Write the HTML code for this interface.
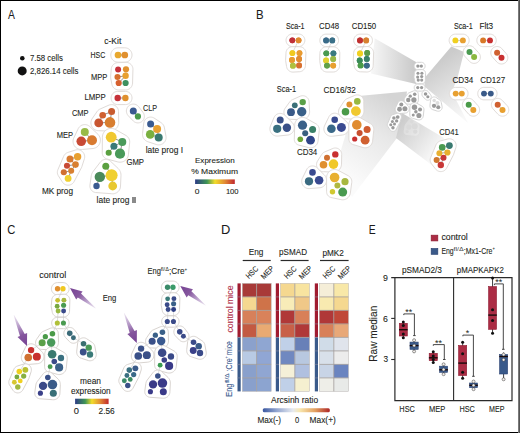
<!DOCTYPE html><html><head><meta charset="utf-8"><style>html,body{margin:0;padding:0;background:#fff;}svg{display:block;}text{font-family:"Liberation Sans",sans-serif;}</style></head><body>
<svg width="520" height="433" viewBox="0 0 520 433">
<defs>
<linearGradient id="gA" x1="0" x2="1" y1="0" y2="0">
 <stop offset="0" stop-color="#2c3b84"/><stop offset="0.3" stop-color="#3f9556"/><stop offset="0.5" stop-color="#f2dc2a"/><stop offset="0.75" stop-color="#e18a34"/><stop offset="1" stop-color="#c0282e"/>
</linearGradient>
<linearGradient id="gD" x1="0" x2="1" y1="0" y2="0">
 <stop offset="0" stop-color="#3a57a0"/><stop offset="0.2" stop-color="#8fa3cf"/><stop offset="0.45" stop-color="#e6eaf0"/><stop offset="0.55" stop-color="#f8e8b0"/><stop offset="0.78" stop-color="#e3a060"/><stop offset="1" stop-color="#ad2626"/>
</linearGradient>
<linearGradient id="arr" x1="1" y1="0" x2="0" y2="0">
 <stop offset="0" stop-color="#8a5ea6" stop-opacity="0.12"/><stop offset="0.35" stop-color="#8a5ea6" stop-opacity="0.6"/><stop offset="0.64" stop-color="#7f4e99" stop-opacity="0.95"/><stop offset="1" stop-color="#764293"/>
</linearGradient>
</defs>
<text x="8.00" y="18.60" font-size="12.3" fill="#1a1a1a" stroke="#1a1a1a" stroke-width="0.05" textLength="6.90" lengthAdjust="spacingAndGlyphs" >A</text>
<text x="256.00" y="18.50" font-size="12.3" fill="#1a1a1a" stroke="#1a1a1a" stroke-width="0.05" textLength="7.60" lengthAdjust="spacingAndGlyphs" >B</text>
<text x="7.20" y="233.90" font-size="12.3" fill="#1a1a1a" stroke="#1a1a1a" stroke-width="0.05" textLength="8.10" lengthAdjust="spacingAndGlyphs" >C</text>
<text x="220.90" y="234.00" font-size="12.3" fill="#1a1a1a" stroke="#1a1a1a" stroke-width="0.05" textLength="9.30" lengthAdjust="spacingAndGlyphs" >D</text>
<text x="368.70" y="234.20" font-size="12.3" fill="#1a1a1a" stroke="#1a1a1a" stroke-width="0.05" textLength="6.90" lengthAdjust="spacingAndGlyphs" >E</text>
<circle cx="22.3" cy="58.2" r="2.3" fill="#111"/>
<circle cx="22.2" cy="70.9" r="4.5" fill="#111"/>
<text x="30.00" y="60.60" font-size="8.7" fill="#231f20" stroke="#231f20" stroke-width="0.1" textLength="33.00" lengthAdjust="spacingAndGlyphs" >7.58 cells</text>
<text x="30.00" y="73.80" font-size="8.7" fill="#231f20" stroke="#231f20" stroke-width="0.1" textLength="48.50" lengthAdjust="spacingAndGlyphs" >2,826.14 cells</text>
<text x="104.30" y="43.70" font-size="8.3" fill="#231f20" stroke="#231f20" stroke-width="0.1" textLength="17.00" lengthAdjust="spacingAndGlyphs" >c-Kit</text>
<text x="90.50" y="58.10" font-size="8.3" fill="#231f20" stroke="#231f20" stroke-width="0.1" textLength="14.80" lengthAdjust="spacingAndGlyphs" >HSC</text>
<text x="90.90" y="80.40" font-size="8.3" fill="#231f20" stroke="#231f20" stroke-width="0.1" textLength="16.40" lengthAdjust="spacingAndGlyphs" >MPP</text>
<text x="84.50" y="99.50" font-size="8.3" fill="#231f20" stroke="#231f20" stroke-width="0.1" textLength="21.20" lengthAdjust="spacingAndGlyphs" >LMPP</text>
<text x="71.90" y="115.70" font-size="8.3" fill="#231f20" stroke="#231f20" stroke-width="0.1" textLength="16.60" lengthAdjust="spacingAndGlyphs" >CMP</text>
<text x="143.10" y="110.60" font-size="8.3" fill="#231f20" stroke="#231f20" stroke-width="0.1" textLength="14.00" lengthAdjust="spacingAndGlyphs" >CLP</text>
<text x="56.80" y="137.50" font-size="8.3" fill="#231f20" stroke="#231f20" stroke-width="0.1" textLength="16.30" lengthAdjust="spacingAndGlyphs" >MEP</text>
<text x="145.70" y="152.80" font-size="8.3" fill="#231f20" stroke="#231f20" stroke-width="0.1" textLength="37.30" lengthAdjust="spacingAndGlyphs" >late prog I</text>
<text x="126.40" y="164.90" font-size="8.3" fill="#231f20" stroke="#231f20" stroke-width="0.1" textLength="17.60" lengthAdjust="spacingAndGlyphs" >GMP</text>
<text x="41.90" y="194.20" font-size="8.3" fill="#231f20" stroke="#231f20" stroke-width="0.1" textLength="31.10" lengthAdjust="spacingAndGlyphs" >MK prog</text>
<text x="96.60" y="202.90" font-size="8.3" fill="#231f20" stroke="#231f20" stroke-width="0.1" textLength="32.80" lengthAdjust="spacingAndGlyphs" >late prog</text>
<rect x="132" y="197" width="4" height="6" fill="#8a8a8a"/>
<text x="195.00" y="162.90" font-size="8.0" fill="#231f20" stroke="#231f20" stroke-width="0.1" textLength="39.80" lengthAdjust="spacingAndGlyphs" >Expression</text>
<text x="191.20" y="174.00" font-size="8.0" fill="#231f20" stroke="#231f20" stroke-width="0.1" textLength="46.80" lengthAdjust="spacingAndGlyphs" >% Maximum</text>
<rect x="195.1" y="179.4" width="39.7" height="4.6" fill="url(#gA)"/>
<text x="194.70" y="194.40" font-size="8.0" fill="#231f20" stroke="#231f20" stroke-width="0.1" textLength="4.70" lengthAdjust="spacingAndGlyphs" >0</text>
<text x="225.90" y="194.40" font-size="8.0" fill="#231f20" stroke="#231f20" stroke-width="0.1" textLength="12.70" lengthAdjust="spacingAndGlyphs" >100</text>
<g>
<path d="M110.80,55.00 L110.86,54.06 L111.05,53.14 L111.35,52.24 L111.77,51.40 L112.29,50.62 L112.91,49.91 L113.62,49.29 L114.40,48.77 L115.25,48.35 L116.14,48.05 L117.06,47.86 L118.00,47.80 L124.80,47.80 L125.74,47.86 L126.66,48.05 L127.56,48.35 L128.40,48.77 L129.18,49.29 L129.89,49.91 L130.51,50.62 L131.03,51.40 L131.45,52.24 L131.75,53.14 L131.94,54.06 L132.00,55.00 L131.94,55.94 L131.75,56.86 L131.45,57.76 L131.03,58.60 L130.51,59.38 L129.89,60.09 L129.18,60.71 L128.40,61.23 L127.56,61.65 L126.66,61.95 L125.74,62.14 L124.80,62.20 L118.00,62.20 L117.06,62.14 L116.14,61.95 L115.25,61.65 L114.40,61.23 L113.62,60.71 L112.91,60.09 L112.29,59.38 L111.77,58.60 L111.35,57.76 L111.05,56.86 L110.86,55.94Z" fill="#fff" stroke="#e0dbd8" stroke-width="1.0" vector-effect="non-scaling-stroke"/>
<path d="M110.60,77.00 L110.66,76.10 L111.31,68.61 L111.48,67.73 L111.77,66.88 L112.17,66.08 L112.67,65.33 L113.26,64.66 L113.93,64.07 L114.67,63.57 L115.48,63.17 L116.33,62.88 L117.21,62.71 L118.10,62.65 L126.00,62.35 L126.91,62.41 L127.80,62.59 L128.66,62.88 L129.47,63.28 L130.23,63.79 L130.91,64.39 L131.51,65.07 L132.02,65.83 L132.42,66.64 L132.71,67.50 L132.89,68.39 L132.95,69.30 L132.55,83.00 L132.49,83.91 L132.31,84.80 L132.02,85.66 L131.62,86.47 L131.11,87.23 L130.51,87.91 L129.83,88.51 L129.07,89.02 L128.26,89.42 L127.40,89.71 L126.51,89.89 L125.60,89.95 L118.70,89.95 L117.79,89.89 L116.90,89.71 L116.04,89.42 L115.22,89.02 L114.47,88.51 L113.79,87.91 L113.19,87.23 L112.68,86.47 L112.28,85.66 L111.99,84.80 L111.81,83.91 L110.66,77.90Z" fill="#fff" stroke="#e0dbd8" stroke-width="1.0" vector-effect="non-scaling-stroke"/>
<path d="M111.10,98.00 L111.16,97.14 L111.33,96.29 L111.60,95.47 L111.98,94.70 L112.46,93.98 L113.03,93.33 L113.68,92.76 L114.40,92.28 L115.17,91.90 L115.99,91.62 L116.84,91.46 L117.70,91.40 L125.40,91.40 L126.26,91.46 L127.11,91.62 L127.93,91.90 L128.70,92.28 L129.42,92.76 L130.07,93.33 L130.64,93.98 L131.12,94.70 L131.50,95.47 L131.78,96.29 L131.94,97.14 L132.00,98.00 L131.94,98.86 L131.78,99.71 L131.50,100.53 L131.12,101.30 L130.64,102.02 L130.07,102.67 L129.42,103.24 L128.70,103.72 L127.93,104.10 L127.11,104.38 L126.26,104.54 L125.40,104.60 L117.70,104.60 L116.84,104.54 L115.99,104.38 L115.17,104.10 L114.40,103.72 L113.68,103.24 L113.03,102.67 L112.46,102.02 L111.98,101.30 L111.60,100.53 L111.33,99.71 L111.16,98.86Z" fill="#fff" stroke="#e0dbd8" stroke-width="1.0" vector-effect="non-scaling-stroke"/>
<path d="M126.40,111.00 L126.46,110.10 L126.64,109.21 L126.92,108.36 L127.32,107.55 L127.83,106.80 L128.42,106.12 L129.10,105.53 L129.85,105.02 L130.66,104.62 L131.51,104.33 L132.40,104.16 L133.30,104.10 L134.20,104.16 L135.09,104.33 L135.94,104.62 L136.75,105.02 L137.50,105.53 L138.18,106.12 L138.77,106.80 L143.06,112.44 L143.53,113.15 L143.91,113.91 L144.18,114.72 L144.34,115.55 L144.40,116.40 L144.34,117.25 L144.18,118.08 L143.91,118.89 L143.53,119.65 L143.06,120.36 L142.50,121.00 L141.86,121.56 L141.15,122.03 L140.39,122.41 L139.58,122.68 L138.75,122.84 L137.90,122.90 L137.05,122.84 L136.22,122.68 L135.41,122.41 L134.65,122.03 L133.94,121.56 L133.30,121.00 L128.42,115.88 L127.83,115.20 L127.32,114.45 L126.92,113.64 L126.64,112.79 L126.46,111.90Z" fill="#fff" stroke="#e0dbd8" stroke-width="1.0" vector-effect="non-scaling-stroke"/>
<path d="M142.50,134.40 L142.57,133.40 L143.76,123.10 L143.94,122.21 L144.22,121.36 L144.62,120.55 L145.13,119.80 L145.72,119.12 L146.40,118.53 L147.15,118.02 L147.96,117.62 L148.81,117.33 L149.70,117.16 L150.60,117.10 L151.50,117.16 L152.39,117.33 L153.24,117.62 L154.05,118.02 L160.80,122.49 L161.60,123.03 L162.33,123.67 L162.97,124.39 L163.51,125.20 L163.94,126.07 L164.25,126.98 L164.44,127.93 L166.04,136.53 L166.10,137.50 L166.04,138.47 L165.85,139.41 L165.54,140.33 L165.11,141.20 L164.57,142.00 L163.93,142.73 L163.21,143.37 L162.40,143.91 L161.53,144.34 L160.62,144.65 L159.67,144.84 L158.70,144.90 L157.73,144.84 L156.78,144.65 L148.21,141.84 L147.25,141.51 L146.35,141.07 L145.51,140.51 L144.75,139.84 L144.09,139.09 L143.53,138.25 L143.09,137.35 L142.76,136.39 L142.57,135.41Z" fill="#fff" stroke="#e0dbd8" stroke-width="1.0" vector-effect="non-scaling-stroke"/>
<path d="M90.90,122.90 L90.97,121.88 L91.17,120.88 L91.49,119.92 L91.94,119.00 L92.51,118.15 L97.39,111.12 L97.96,110.46 L98.62,109.89 L99.35,109.40 L100.14,109.01 L108.96,105.12 L109.81,104.83 L110.70,104.66 L111.60,104.60 L112.50,104.66 L113.39,104.83 L114.24,105.12 L115.05,105.52 L115.80,106.03 L116.48,106.62 L117.07,107.30 L117.58,108.05 L117.97,108.86 L118.27,109.71 L118.44,110.60 L118.50,111.50 L118.70,122.40 L118.63,123.54 L118.40,124.65 L118.04,125.73 L117.53,126.75 L116.90,127.70 L116.15,128.55 L115.30,129.30 L114.35,129.93 L113.33,130.44 L112.25,130.80 L111.14,131.03 L110.00,131.10 L98.70,130.70 L97.68,130.63 L96.68,130.43 L95.72,130.11 L94.80,129.66 L93.95,129.09 L93.19,128.41 L92.51,127.65 L91.94,126.80 L91.49,125.89 L91.17,124.92 L90.97,123.92Z" fill="#fff" stroke="#e0dbd8" stroke-width="1.0" vector-effect="non-scaling-stroke"/>
<path d="M73.05,141.30 L73.12,140.23 L73.33,139.18 L73.67,138.16 L77.96,129.17 L78.39,128.30 L78.93,127.50 L79.57,126.77 L80.30,126.13 L81.10,125.59 L81.97,125.16 L82.89,124.85 L83.83,124.66 L84.80,124.60 L85.77,124.66 L86.72,124.85 L87.63,125.16 L88.50,125.59 L89.31,126.13 L90.03,126.77 L97.94,134.26 L98.66,135.09 L99.28,136.00 L99.76,136.99 L100.11,138.03 L100.33,139.10 L100.40,140.20 L100.33,141.30 L100.11,142.37 L99.76,143.41 L99.28,144.40 L98.66,145.31 L97.94,146.14 L97.11,146.86 L96.20,147.47 L95.22,147.96 L94.17,148.31 L93.10,148.53 L82.32,149.43 L81.25,149.50 L80.18,149.43 L79.13,149.22 L78.11,148.88 L77.15,148.40 L76.26,147.81 L75.45,147.10 L74.75,146.29 L74.15,145.40 L73.67,144.44 L73.33,143.42 L73.12,142.37Z" fill="#fff" stroke="#e0dbd8" stroke-width="1.0" vector-effect="non-scaling-stroke"/>
<path d="M102.25,152.80 L102.40,137.20 L102.47,136.05 L102.70,134.92 L103.07,133.83 L103.58,132.80 L104.22,131.84 L104.98,130.98 L105.84,130.22 L106.80,129.58 L107.83,129.07 L108.92,128.70 L110.05,128.47 L111.20,128.40 L112.35,128.47 L113.48,128.70 L114.57,129.07 L115.60,129.58 L126.00,135.49 L126.81,136.03 L127.53,136.67 L128.17,137.40 L128.71,138.20 L129.14,139.07 L129.45,139.99 L129.64,140.93 L129.70,141.90 L129.64,142.87 L128.43,154.81 L128.21,155.90 L127.85,156.95 L127.36,157.95 L126.74,158.87 L126.01,159.71 L125.17,160.44 L124.25,161.06 L123.25,161.55 L122.20,161.91 L121.11,162.13 L120.00,162.20 L118.89,162.13 L117.80,161.91 L107.03,159.03 L106.23,158.76 L105.47,158.39 L104.77,157.92 L104.14,157.36 L103.58,156.73 L103.11,156.03 L102.74,155.27 L102.47,154.47 L102.31,153.64Z" fill="#fff" stroke="#e0dbd8" stroke-width="1.0" vector-effect="non-scaling-stroke"/>
<path d="M57.35,172.30 L57.41,171.46 L57.57,170.63 L57.84,169.83 L63.62,156.36 L64.02,155.55 L64.53,154.80 L65.12,154.12 L65.80,153.53 L66.55,153.02 L67.36,152.62 L68.21,152.34 L75.76,149.94 L76.67,149.76 L77.60,149.70 L78.53,149.76 L79.44,149.94 L80.32,150.24 L81.15,150.65 L81.92,151.17 L82.62,151.78 L83.23,152.48 L83.75,153.25 L84.16,154.08 L84.46,154.96 L84.64,155.87 L84.70,156.80 L84.64,157.73 L84.46,158.64 L81.97,166.33 L81.69,167.16 L81.30,167.95 L73.99,181.80 L73.50,182.54 L72.91,183.21 L72.24,183.79 L71.50,184.29 L70.70,184.68 L69.86,184.97 L68.99,185.14 L68.10,185.20 L67.21,185.14 L66.34,184.97 L65.50,184.68 L64.70,184.29 L63.96,183.79 L63.29,183.21 L62.70,182.54 L62.21,181.80 L58.21,175.53 L57.84,174.77 L57.57,173.97 L57.41,173.14Z" fill="#fff" stroke="#e0dbd8" stroke-width="1.0" vector-effect="non-scaling-stroke"/>
<path d="M89.90,186.00 L89.96,185.14 L91.27,175.78 L91.49,174.67 L91.86,173.61 L92.35,172.60 L92.98,171.66 L100.33,162.10 L100.92,161.42 L101.60,160.83 L102.35,160.32 L103.16,159.93 L104.01,159.63 L104.90,159.46 L105.80,159.40 L106.70,159.46 L107.59,159.63 L108.44,159.93 L109.25,160.32 L110.00,160.83 L110.68,161.42 L118.25,168.55 L119.06,169.48 L119.74,170.50 L120.28,171.60 L120.68,172.77 L120.92,173.97 L121.00,175.20 L120.50,186.00 L120.43,187.02 L120.23,188.02 L119.91,188.99 L119.45,189.90 L118.89,190.75 L118.22,191.51 L117.45,192.19 L116.60,192.75 L115.69,193.21 L114.72,193.53 L113.72,193.73 L112.70,193.80 L111.68,193.73 L95.64,192.54 L94.79,192.38 L93.97,192.10 L93.20,191.72 L92.48,191.24 L91.83,190.67 L91.26,190.02 L90.78,189.30 L90.40,188.53 L90.12,187.71 L89.96,186.86Z" fill="#fff" stroke="#e0dbd8" stroke-width="1.0" vector-effect="non-scaling-stroke"/>
<line x1="118" y1="55" x2="124.8" y2="55" stroke="#4a4a4a" stroke-width="0.6" vector-effect="non-scaling-stroke"/>
<line x1="117.5" y1="77" x2="125.6" y2="75.8" stroke="#4a4a4a" stroke-width="0.6" vector-effect="non-scaling-stroke"/>
<line x1="118.7" y1="83" x2="125.6" y2="75.8" stroke="#4a4a4a" stroke-width="0.6" vector-effect="non-scaling-stroke"/>
<line x1="117.7" y1="98" x2="125.4" y2="98" stroke="#4a4a4a" stroke-width="0.6" vector-effect="non-scaling-stroke"/>
<line x1="133.3" y1="111" x2="137.9" y2="116.4" stroke="#4a4a4a" stroke-width="0.6" vector-effect="non-scaling-stroke"/>
<line x1="150.6" y1="124" x2="157.1" y2="128.9" stroke="#4a4a4a" stroke-width="0.6" vector-effect="non-scaling-stroke"/>
<line x1="157.1" y1="128.9" x2="158.7" y2="137.5" stroke="#4a4a4a" stroke-width="0.6" vector-effect="non-scaling-stroke"/>
<line x1="150.2" y1="134.4" x2="158.7" y2="137.5" stroke="#4a4a4a" stroke-width="0.6" vector-effect="non-scaling-stroke"/>
<line x1="102.7" y1="115.2" x2="111.6" y2="111.5" stroke="#4a4a4a" stroke-width="0.6" vector-effect="non-scaling-stroke"/>
<line x1="102.7" y1="115.2" x2="98.7" y2="122.9" stroke="#4a4a4a" stroke-width="0.6" vector-effect="non-scaling-stroke"/>
<line x1="98.7" y1="122.9" x2="110" y2="122.4" stroke="#4a4a4a" stroke-width="0.6" vector-effect="non-scaling-stroke"/>
<line x1="111.6" y1="111.5" x2="110" y2="122.4" stroke="#4a4a4a" stroke-width="0.6" vector-effect="non-scaling-stroke"/>
<line x1="84.8" y1="132" x2="92" y2="140.2" stroke="#4a4a4a" stroke-width="0.6" vector-effect="non-scaling-stroke"/>
<line x1="81.25" y1="141.3" x2="92" y2="140.2" stroke="#4a4a4a" stroke-width="0.6" vector-effect="non-scaling-stroke"/>
<line x1="111.2" y1="137.2" x2="122.3" y2="141.9" stroke="#4a4a4a" stroke-width="0.6" vector-effect="non-scaling-stroke"/>
<line x1="113.9" y1="146.3" x2="122.3" y2="141.9" stroke="#4a4a4a" stroke-width="0.6" vector-effect="non-scaling-stroke"/>
<line x1="113.9" y1="146.3" x2="108.7" y2="152.8" stroke="#4a4a4a" stroke-width="0.6" vector-effect="non-scaling-stroke"/>
<line x1="120" y1="153.7" x2="122.3" y2="141.9" stroke="#4a4a4a" stroke-width="0.6" vector-effect="non-scaling-stroke"/>
<line x1="77.6" y1="156.8" x2="70" y2="159" stroke="#4a4a4a" stroke-width="0.6" vector-effect="non-scaling-stroke"/>
<line x1="70" y1="159" x2="75.5" y2="164.6" stroke="#4a4a4a" stroke-width="0.6" vector-effect="non-scaling-stroke"/>
<line x1="67" y1="165.8" x2="75.5" y2="164.6" stroke="#4a4a4a" stroke-width="0.6" vector-effect="non-scaling-stroke"/>
<line x1="75.5" y1="164.6" x2="71.2" y2="170.7" stroke="#4a4a4a" stroke-width="0.6" vector-effect="non-scaling-stroke"/>
<line x1="63.8" y1="172.3" x2="71.2" y2="170.7" stroke="#4a4a4a" stroke-width="0.6" vector-effect="non-scaling-stroke"/>
<line x1="71.2" y1="170.7" x2="68.1" y2="178.4" stroke="#4a4a4a" stroke-width="0.6" vector-effect="non-scaling-stroke"/>
<line x1="105.8" y1="166.3" x2="111.6" y2="175.2" stroke="#4a4a4a" stroke-width="0.6" vector-effect="non-scaling-stroke"/>
<line x1="99.8" y1="176.9" x2="111.6" y2="175.2" stroke="#4a4a4a" stroke-width="0.6" vector-effect="non-scaling-stroke"/>
<line x1="99.8" y1="176.9" x2="96.5" y2="186" stroke="#4a4a4a" stroke-width="0.6" vector-effect="non-scaling-stroke"/>
<line x1="111.6" y1="175.2" x2="112.7" y2="186" stroke="#4a4a4a" stroke-width="0.6" vector-effect="non-scaling-stroke"/>
<circle cx="118" cy="55" r="3.35" fill="#e8a82e"/>
<circle cx="124.8" cy="55" r="3.35" fill="#e0902f"/>
<circle cx="118.1" cy="69.5" r="3.0" fill="#c6323a"/>
<circle cx="126" cy="69.3" r="3.1" fill="#e0902f"/>
<circle cx="117.5" cy="77" r="3.05" fill="#d6702f"/>
<circle cx="125.6" cy="75.8" r="3.2" fill="#e8a030"/>
<circle cx="118.7" cy="83" r="3.1" fill="#d6602f"/>
<circle cx="125.6" cy="83" r="3.1" fill="#3e9060"/>
<circle cx="117.7" cy="98" r="3.2" fill="#c6323a"/>
<circle cx="125.4" cy="98" r="3.2" fill="#e0902f"/>
<circle cx="133.3" cy="111" r="3.5" fill="#3a5a90"/>
<circle cx="137.9" cy="116.4" r="3.1" fill="#4a9a4a"/>
<circle cx="150.6" cy="124" r="3.5" fill="#3a5a90"/>
<circle cx="157.1" cy="128.9" r="4.0" fill="#e8a030"/>
<circle cx="150.2" cy="134.4" r="4.3" fill="#7ab040"/>
<circle cx="158.7" cy="137.5" r="4.0" fill="#3a7a70"/>
<circle cx="102.7" cy="115.2" r="3.3" fill="#d06030"/>
<circle cx="111.6" cy="111.5" r="3.5" fill="#c85c30"/>
<circle cx="98.7" cy="122.9" r="4.4" fill="#c85530"/>
<circle cx="110" cy="122.4" r="5.3" fill="#d87e30"/>
<circle cx="84.8" cy="132" r="4.0" fill="#98bb48"/>
<circle cx="81.25" cy="141.3" r="4.8" fill="#c84a35"/>
<circle cx="92" cy="140.2" r="5.0" fill="#d87a30"/>
<circle cx="111.2" cy="137.2" r="5.4" fill="#f0c830"/>
<circle cx="122.3" cy="141.9" r="4.0" fill="#4a9a5a"/>
<circle cx="113.9" cy="146.3" r="3.5" fill="#3a7a78"/>
<circle cx="108.7" cy="152.8" r="3.05" fill="#5aa040"/>
<circle cx="120" cy="153.7" r="5.1" fill="#4a9a5a"/>
<circle cx="77.6" cy="156.8" r="3.7" fill="#e8a030"/>
<circle cx="70" cy="159" r="3.5" fill="#d87a30"/>
<circle cx="67" cy="165.8" r="3.05" fill="#c84a35"/>
<circle cx="75.5" cy="164.6" r="3.3" fill="#d88030"/>
<circle cx="63.8" cy="172.3" r="3.05" fill="#d07030"/>
<circle cx="71.2" cy="170.7" r="3.0" fill="#d88030"/>
<circle cx="68.1" cy="178.4" r="3.4" fill="#f0d030"/>
<circle cx="105.8" cy="166.3" r="3.5" fill="#5aa040"/>
<circle cx="99.8" cy="176.9" r="5.2" fill="#4a8a5a"/>
<circle cx="111.6" cy="175.2" r="6.0" fill="#f0d030"/>
<circle cx="96.5" cy="186" r="3.2" fill="#3a5a90"/>
<circle cx="112.7" cy="186" r="4.4" fill="#e8c830"/>
</g>
<defs>
<linearGradient id="w1" gradientUnits="userSpaceOnUse" x1="372" y1="0" x2="416" y2="0"><stop offset="0" stop-color="#f6f6f6"/><stop offset="1" stop-color="#c8c8c8"/></linearGradient>
<linearGradient id="w2" gradientUnits="userSpaceOnUse" x1="428" y1="68" x2="462" y2="118"><stop offset="0" stop-color="#cbcbcb"/><stop offset="1" stop-color="#f8f8f8"/></linearGradient>
<linearGradient id="w3" gradientUnits="userSpaceOnUse" x1="362" y1="0" x2="406" y2="0"><stop offset="0" stop-color="#f6f6f6"/><stop offset="1" stop-color="#cdcdcd"/></linearGradient>
<linearGradient id="w5" gradientUnits="userSpaceOnUse" x1="402" y1="105" x2="350" y2="180"><stop offset="0" stop-color="#d4d4d4"/><stop offset="0.4" stop-color="#e8e8e8"/><stop offset="1" stop-color="#fbfbfb"/></linearGradient>
<linearGradient id="w6" gradientUnits="userSpaceOnUse" x1="400" y1="124" x2="436" y2="152"><stop offset="0" stop-color="#cdcdcd"/><stop offset="1" stop-color="#f7f7f7"/></linearGradient>
</defs>
<polygon points="374.7,38.2 416,62 416,84 371,73.5" fill="url(#w1)"/>
<polygon points="424.5,78 451.3,46.5 464,52 458,76 452,92 468,123 424.5,86.5" fill="url(#w2)"/>
<polygon points="358.5,96 407,91.5 404,110 397.3,137.6 352,197 335,170 350,120" fill="url(#w5)"/>
<polygon points="402,113 444,138 433,166 396,138" fill="url(#w6)"/>
<g transform="translate(358.9,38.6) scale(0.5)">
<path d="M110.40,55.00 L110.47,54.01 L110.66,53.03 L110.98,52.09 L111.42,51.20 L111.97,50.37 L112.63,49.63 L113.37,48.97 L114.20,48.42 L115.09,47.98 L116.03,47.66 L117.01,47.47 L118.00,47.40 L124.80,47.40 L125.79,47.47 L126.77,47.66 L127.71,47.98 L128.60,48.42 L129.43,48.97 L130.17,49.63 L130.83,50.37 L131.38,51.20 L131.82,52.09 L132.14,53.03 L132.34,54.01 L132.40,55.00 L132.34,55.99 L132.14,56.97 L131.82,57.91 L131.38,58.80 L130.83,59.63 L130.17,60.37 L129.43,61.03 L128.60,61.58 L127.71,62.02 L126.77,62.34 L125.79,62.53 L124.80,62.60 L118.00,62.60 L117.01,62.53 L116.03,62.34 L115.09,62.02 L114.20,61.58 L113.37,61.03 L112.63,60.37 L111.97,59.63 L111.42,58.80 L110.98,57.91 L110.66,56.97 L110.47,55.99Z" fill="#fff" stroke="#d4d4d4" stroke-width="1.0" vector-effect="non-scaling-stroke"/>
<path d="M110.20,77.00 L110.26,76.05 L110.91,68.55 L111.10,67.62 L111.40,66.73 L111.82,65.88 L112.35,65.09 L112.97,64.37 L113.69,63.75 L114.47,63.22 L115.33,62.80 L116.22,62.50 L117.15,62.31 L118.10,62.25 L126.00,61.95 L126.96,62.01 L127.90,62.20 L128.81,62.51 L129.68,62.94 L130.47,63.47 L131.20,64.10 L131.83,64.83 L132.37,65.62 L132.79,66.49 L133.10,67.40 L133.29,68.34 L133.35,69.30 L132.95,83.00 L132.89,83.96 L132.70,84.90 L132.39,85.81 L131.97,86.67 L131.43,87.47 L130.80,88.20 L130.07,88.83 L129.28,89.36 L128.41,89.79 L127.50,90.10 L126.56,90.29 L125.60,90.35 L118.70,90.35 L117.74,90.29 L116.80,90.10 L115.89,89.79 L115.03,89.36 L114.23,88.83 L113.50,88.20 L112.87,87.47 L112.33,86.67 L111.91,85.81 L111.60,84.90 L111.41,83.96 L110.26,77.95Z" fill="#fff" stroke="#d4d4d4" stroke-width="1.0" vector-effect="non-scaling-stroke"/>
<path d="M110.70,98.00 L110.76,97.09 L110.94,96.19 L111.23,95.32 L111.64,94.50 L112.15,93.74 L112.75,93.05 L113.44,92.45 L114.20,91.94 L115.02,91.53 L115.89,91.24 L116.79,91.06 L117.70,91.00 L125.40,91.00 L126.31,91.06 L127.21,91.24 L128.08,91.53 L128.90,91.94 L129.66,92.45 L130.35,93.05 L130.95,93.74 L131.46,94.50 L131.87,95.32 L132.16,96.19 L132.34,97.09 L132.40,98.00 L132.34,98.91 L132.16,99.81 L131.87,100.68 L131.46,101.50 L130.95,102.26 L130.35,102.95 L129.66,103.55 L128.90,104.06 L128.08,104.47 L127.21,104.76 L126.31,104.94 L125.40,105.00 L117.70,105.00 L116.79,104.94 L115.89,104.76 L115.02,104.47 L114.20,104.06 L113.44,103.55 L112.75,102.95 L112.15,102.26 L111.64,101.50 L111.23,100.68 L110.94,99.81 L110.76,98.91Z" fill="#fff" stroke="#d4d4d4" stroke-width="1.0" vector-effect="non-scaling-stroke"/>
<path d="M126.00,111.00 L126.06,110.05 L126.25,109.11 L126.56,108.21 L126.98,107.35 L127.51,106.56 L128.14,105.84 L128.86,105.21 L129.65,104.68 L130.51,104.26 L131.41,103.95 L132.35,103.76 L133.30,103.70 L134.25,103.76 L135.19,103.95 L136.09,104.26 L136.95,104.68 L137.74,105.21 L138.46,105.84 L139.09,106.56 L143.37,112.20 L143.88,112.95 L144.28,113.76 L144.56,114.61 L144.74,115.50 L144.80,116.40 L144.74,117.30 L144.56,118.19 L144.28,119.04 L143.88,119.85 L143.37,120.60 L142.78,121.28 L142.10,121.87 L141.35,122.38 L140.54,122.78 L139.69,123.06 L138.80,123.24 L137.90,123.30 L137.00,123.24 L136.11,123.06 L135.26,122.78 L134.45,122.38 L133.70,121.87 L133.02,121.28 L128.14,116.16 L127.51,115.44 L126.98,114.65 L126.56,113.79 L126.25,112.89 L126.06,111.95Z" fill="#fff" stroke="#d4d4d4" stroke-width="1.0" vector-effect="non-scaling-stroke"/>
<path d="M142.10,134.40 L142.17,133.34 L143.36,123.05 L143.55,122.11 L143.86,121.21 L144.28,120.35 L144.81,119.56 L145.44,118.84 L146.16,118.21 L146.95,117.68 L147.81,117.26 L148.71,116.95 L149.65,116.76 L150.60,116.70 L151.55,116.76 L152.49,116.95 L153.39,117.26 L154.25,117.68 L161.00,122.14 L161.85,122.71 L162.62,123.39 L163.29,124.15 L163.85,125.00 L164.31,125.92 L164.63,126.88 L164.83,127.88 L166.43,136.48 L166.50,137.50 L166.43,138.52 L166.23,139.52 L165.91,140.49 L165.46,141.40 L164.89,142.25 L164.22,143.01 L163.45,143.69 L162.60,144.25 L161.69,144.71 L160.72,145.03 L159.72,145.23 L158.70,145.30 L157.68,145.23 L156.68,145.03 L148.10,142.22 L147.10,141.88 L146.15,141.41 L145.27,140.83 L144.47,140.13 L143.77,139.33 L143.19,138.45 L142.72,137.50 L142.38,136.50 L142.17,135.46Z" fill="#fff" stroke="#d4d4d4" stroke-width="1.0" vector-effect="non-scaling-stroke"/>
<path d="M90.50,122.90 L90.57,121.83 L90.78,120.78 L91.12,119.76 L91.60,118.80 L92.19,117.91 L97.07,110.88 L97.68,110.18 L98.38,109.57 L99.15,109.05 L99.98,108.64 L108.81,104.76 L109.71,104.45 L110.65,104.26 L111.60,104.20 L112.55,104.26 L113.49,104.45 L114.39,104.76 L115.25,105.18 L116.04,105.71 L116.76,106.34 L117.39,107.06 L117.92,107.85 L118.34,108.71 L118.65,109.61 L118.84,110.55 L118.90,111.50 L119.10,122.40 L119.02,123.59 L118.79,124.75 L118.41,125.88 L117.88,126.95 L117.22,127.94 L116.44,128.84 L115.54,129.62 L114.55,130.28 L113.48,130.81 L112.36,131.19 L111.19,131.42 L110.00,131.50 L98.70,131.10 L97.63,131.03 L96.58,130.82 L95.56,130.48 L94.60,130.00 L93.71,129.41 L92.90,128.70 L92.19,127.89 L91.60,127.00 L91.12,126.04 L90.78,125.02 L90.57,123.97Z" fill="#fff" stroke="#d4d4d4" stroke-width="1.0" vector-effect="non-scaling-stroke"/>
<path d="M72.65,141.30 L72.72,140.18 L72.94,139.07 L73.31,138.01 L77.59,129.01 L78.05,128.10 L78.61,127.25 L79.28,126.48 L80.05,125.81 L80.90,125.25 L81.81,124.79 L82.78,124.47 L83.78,124.27 L84.80,124.20 L85.82,124.27 L86.82,124.47 L87.78,124.79 L88.70,125.25 L89.55,125.81 L90.31,126.48 L98.22,133.98 L98.98,134.84 L99.62,135.80 L100.13,136.83 L100.50,137.92 L100.72,139.05 L100.80,140.20 L100.72,141.35 L100.50,142.48 L100.13,143.57 L99.62,144.60 L98.98,145.56 L98.22,146.42 L97.36,147.18 L96.40,147.82 L95.37,148.33 L94.28,148.70 L93.15,148.93 L82.37,149.83 L81.25,149.90 L80.13,149.83 L79.02,149.61 L77.96,149.25 L76.95,148.75 L76.02,148.12 L75.17,147.38 L74.43,146.53 L73.80,145.60 L73.31,144.59 L72.94,143.53 L72.72,142.42Z" fill="#fff" stroke="#d4d4d4" stroke-width="1.0" vector-effect="non-scaling-stroke"/>
<path d="M101.85,152.80 L102.00,137.20 L102.08,136.00 L102.31,134.82 L102.70,133.68 L103.23,132.60 L103.90,131.60 L104.69,130.69 L105.60,129.90 L106.60,129.23 L107.68,128.70 L108.82,128.31 L110.00,128.08 L111.20,128.00 L112.40,128.08 L113.58,128.31 L114.72,128.70 L115.80,129.23 L126.20,135.15 L127.05,135.71 L127.81,136.38 L128.49,137.15 L129.06,138.00 L129.51,138.91 L129.83,139.88 L130.03,140.88 L130.10,141.90 L130.03,142.92 L128.82,154.86 L128.60,156.00 L128.22,157.11 L127.71,158.15 L127.06,159.12 L126.29,159.99 L125.42,160.76 L124.45,161.41 L123.41,161.92 L122.30,162.30 L121.16,162.52 L120.00,162.60 L118.84,162.52 L117.70,162.30 L106.93,159.42 L106.08,159.13 L105.28,158.73 L104.53,158.23 L103.86,157.64 L103.27,156.97 L102.77,156.22 L102.37,155.42 L102.08,154.57 L101.91,153.69Z" fill="#fff" stroke="#d4d4d4" stroke-width="1.0" vector-effect="non-scaling-stroke"/>
<path d="M56.95,172.30 L57.01,171.41 L57.18,170.53 L57.47,169.68 L63.26,156.21 L63.68,155.35 L64.21,154.56 L64.84,153.84 L65.56,153.21 L66.35,152.68 L67.21,152.26 L68.11,151.95 L75.66,149.56 L76.62,149.36 L77.60,149.30 L78.58,149.36 L79.54,149.56 L80.47,149.87 L81.35,150.31 L82.17,150.85 L82.90,151.50 L83.55,152.23 L84.09,153.05 L84.53,153.93 L84.84,154.86 L85.04,155.82 L85.10,156.80 L85.04,157.78 L84.84,158.74 L82.36,166.44 L82.06,167.32 L81.65,168.15 L74.33,182.00 L73.81,182.78 L73.19,183.49 L72.48,184.11 L71.70,184.63 L70.86,185.05 L69.96,185.35 L69.04,185.54 L68.10,185.60 L67.16,185.54 L66.24,185.35 L65.34,185.05 L64.50,184.63 L63.72,184.11 L63.01,183.49 L62.39,182.78 L61.87,182.00 L57.87,175.72 L57.47,174.92 L57.18,174.07 L57.01,173.19Z" fill="#fff" stroke="#d4d4d4" stroke-width="1.0" vector-effect="non-scaling-stroke"/>
<path d="M89.50,186.00 L89.56,185.09 L90.88,175.72 L91.11,174.57 L91.48,173.46 L92.01,172.40 L92.66,171.42 L100.01,161.86 L100.64,161.14 L101.36,160.51 L102.15,159.98 L103.01,159.56 L103.91,159.25 L104.85,159.06 L105.80,159.00 L106.75,159.06 L107.69,159.25 L108.59,159.56 L109.45,159.98 L110.24,160.51 L110.96,161.14 L118.53,168.27 L119.38,169.23 L120.09,170.30 L120.65,171.45 L121.07,172.66 L121.32,173.92 L121.40,175.20 L120.90,186.00 L120.83,187.07 L120.62,188.12 L120.28,189.14 L119.80,190.10 L119.20,190.99 L118.50,191.80 L117.69,192.50 L116.80,193.10 L115.84,193.58 L114.82,193.92 L113.77,194.13 L112.70,194.20 L111.63,194.13 L95.59,192.94 L94.69,192.76 L93.82,192.47 L93.00,192.06 L92.24,191.55 L91.55,190.95 L90.95,190.26 L90.44,189.50 L90.03,188.68 L89.74,187.81 L89.56,186.91Z" fill="rgba(255,255,255,0.25)" stroke="none" stroke-width="1.0" vector-effect="non-scaling-stroke"/>
<circle cx="118" cy="55" r="3.35" fill="#9a9a9a"/>
<circle cx="124.8" cy="55" r="3.35" fill="#9a9a9a"/>
<circle cx="118.1" cy="69.5" r="3.0" fill="#9a9a9a"/>
<circle cx="126" cy="69.3" r="3.1" fill="#9a9a9a"/>
<circle cx="117.5" cy="77" r="3.05" fill="#9a9a9a"/>
<circle cx="125.6" cy="75.8" r="3.2" fill="#9a9a9a"/>
<circle cx="118.7" cy="83" r="3.1" fill="#9a9a9a"/>
<circle cx="125.6" cy="83" r="3.1" fill="#9a9a9a"/>
<circle cx="117.7" cy="98" r="3.2" fill="#9a9a9a"/>
<circle cx="125.4" cy="98" r="3.2" fill="#9a9a9a"/>
<circle cx="133.3" cy="111" r="3.5" fill="#9a9a9a"/>
<circle cx="137.9" cy="116.4" r="3.1" fill="#9a9a9a"/>
<circle cx="150.6" cy="124" r="3.5" fill="#dcdcdc"/>
<circle cx="157.1" cy="128.9" r="4.0" fill="#dedede"/>
<circle cx="150.2" cy="134.4" r="4.3" fill="#9a9a9a"/>
<circle cx="158.7" cy="137.5" r="4.0" fill="#9a9a9a"/>
<circle cx="102.7" cy="115.2" r="3.3" fill="#9a9a9a"/>
<circle cx="111.6" cy="111.5" r="3.5" fill="#9a9a9a"/>
<circle cx="98.7" cy="122.9" r="4.4" fill="#9a9a9a"/>
<circle cx="110" cy="122.4" r="5.3" fill="#9a9a9a"/>
<circle cx="84.8" cy="132" r="4.0" fill="#9a9a9a"/>
<circle cx="81.25" cy="141.3" r="4.8" fill="#9a9a9a"/>
<circle cx="92" cy="140.2" r="5.0" fill="#9a9a9a"/>
<circle cx="111.2" cy="137.2" r="5.4" fill="#9a9a9a"/>
<circle cx="122.3" cy="141.9" r="4.0" fill="#9a9a9a"/>
<circle cx="113.9" cy="146.3" r="3.5" fill="#9a9a9a"/>
<circle cx="108.7" cy="152.8" r="3.05" fill="#9a9a9a"/>
<circle cx="120" cy="153.7" r="5.1" fill="#9a9a9a"/>
<circle cx="77.6" cy="156.8" r="3.7" fill="#9a9a9a"/>
<circle cx="70" cy="159" r="3.5" fill="#9a9a9a"/>
<circle cx="67" cy="165.8" r="3.05" fill="#9a9a9a"/>
<circle cx="75.5" cy="164.6" r="3.3" fill="#9a9a9a"/>
<circle cx="63.8" cy="172.3" r="3.05" fill="#9a9a9a"/>
<circle cx="71.2" cy="170.7" r="3.0" fill="#9a9a9a"/>
<circle cx="68.1" cy="178.4" r="3.4" fill="#9a9a9a"/>
<circle cx="105.8" cy="166.3" r="3.5" fill="#dadada"/>
<circle cx="99.8" cy="176.9" r="5.2" fill="#dadada"/>
<circle cx="111.6" cy="175.2" r="6.0" fill="#dadada"/>
<circle cx="96.5" cy="186" r="3.2" fill="#dadada"/>
<circle cx="112.7" cy="186" r="4.4" fill="#dadada"/>
</g>
<text x="285.90" y="29.10" font-size="8.3" fill="#231f20" stroke="#231f20" stroke-width="0.1" textLength="18.70" lengthAdjust="spacingAndGlyphs" >Sca-1</text>
<text x="319.10" y="29.00" font-size="8.3" fill="#231f20" stroke="#231f20" stroke-width="0.1" textLength="20.00" lengthAdjust="spacingAndGlyphs" >CD48</text>
<text x="351.80" y="29.00" font-size="8.3" fill="#231f20" stroke="#231f20" stroke-width="0.1" textLength="24.40" lengthAdjust="spacingAndGlyphs" >CD150</text>
<text x="453.90" y="28.80" font-size="8.3" fill="#231f20" stroke="#231f20" stroke-width="0.1" textLength="18.80" lengthAdjust="spacingAndGlyphs" >Sca-1</text>
<text x="479.50" y="28.80" font-size="8.3" fill="#231f20" stroke="#231f20" stroke-width="0.1" textLength="13.70" lengthAdjust="spacingAndGlyphs" >Flt3</text>
<text x="452.50" y="82.90" font-size="8.3" fill="#231f20" stroke="#231f20" stroke-width="0.1" textLength="20.80" lengthAdjust="spacingAndGlyphs" >CD34</text>
<text x="480.20" y="82.90" font-size="8.3" fill="#231f20" stroke="#231f20" stroke-width="0.1" textLength="24.90" lengthAdjust="spacingAndGlyphs" >CD127</text>
<text x="276.70" y="92.40" font-size="8.3" fill="#231f20" stroke="#231f20" stroke-width="0.1" textLength="19.50" lengthAdjust="spacingAndGlyphs" >Sca-1</text>
<text x="323.60" y="92.80" font-size="8.3" fill="#231f20" stroke="#231f20" stroke-width="0.1" textLength="32.30" lengthAdjust="spacingAndGlyphs" >CD16/32</text>
<text x="296.90" y="155.40" font-size="8.3" fill="#231f20" stroke="#231f20" stroke-width="0.1" textLength="20.40" lengthAdjust="spacingAndGlyphs" >CD34</text>
<text x="439.30" y="134.50" font-size="8.3" fill="#231f20" stroke="#231f20" stroke-width="0.1" textLength="19.50" lengthAdjust="spacingAndGlyphs" >CD41</text>
<path d="M286.05,40.30 L286.10,39.48 L286.26,38.68 L286.53,37.91 L286.89,37.17 L287.34,36.49 L287.88,35.88 L288.50,35.34 L289.18,34.89 L289.91,34.53 L290.68,34.26 L291.48,34.10 L292.30,34.05 L298.60,34.05 L299.42,34.10 L300.22,34.26 L300.99,34.53 L301.73,34.89 L302.40,35.34 L303.02,35.88 L303.56,36.49 L304.01,37.17 L304.37,37.91 L304.64,38.68 L304.80,39.48 L304.85,40.30 L304.80,41.12 L304.64,41.92 L304.37,42.69 L304.01,43.42 L303.56,44.10 L303.02,44.72 L302.40,45.26 L301.73,45.71 L300.99,46.07 L300.22,46.34 L299.42,46.50 L298.60,46.55 L292.30,46.55 L291.48,46.50 L290.68,46.34 L289.91,46.07 L289.18,45.71 L288.50,45.26 L287.88,44.72 L287.34,44.10 L286.89,43.42 L286.53,42.69 L286.26,41.92 L286.10,41.12Z" fill="#fff" stroke="#e0dbd8" stroke-width="1"/>
<circle cx="292.3" cy="40.3" r="2.85" fill="#c0303a"/>
<circle cx="298.6" cy="40.3" r="2.85" fill="#e08a30"/>
<path d="M285.60,59.90 L286.00,53.10 L286.06,52.27 L286.22,51.44 L286.49,50.65 L286.86,49.90 L287.32,49.20 L287.88,48.58 L288.50,48.02 L289.20,47.56 L289.95,47.19 L290.74,46.92 L291.56,46.76 L292.40,46.70 L299.50,46.70 L300.33,46.76 L301.16,46.92 L301.95,47.19 L302.70,47.56 L303.40,48.02 L304.02,48.58 L304.58,49.20 L305.04,49.90 L305.41,50.65 L305.68,51.44 L305.85,52.27 L305.90,53.10 L305.45,65.40 L305.40,66.23 L305.23,67.04 L304.97,67.83 L304.60,68.58 L304.14,69.27 L303.59,69.89 L302.97,70.44 L302.27,70.90 L301.53,71.27 L300.74,71.53 L299.93,71.70 L299.10,71.75 L292.90,72.10 L292.06,72.05 L291.24,71.88 L290.45,71.61 L289.70,71.24 L289.00,70.78 L288.38,70.22 L287.82,69.60 L287.36,68.90 L286.99,68.15 L286.72,67.36 L286.56,66.53 L285.65,60.73Z" fill="#fff" stroke="#e0dbd8" stroke-width="1"/>
<circle cx="292.4" cy="53.1" r="2.9" fill="#f0c820"/>
<circle cx="299.5" cy="53.1" r="2.9" fill="#e89a30"/>
<circle cx="292" cy="59.9" r="2.9" fill="#e89a30"/>
<circle cx="299.1" cy="59" r="2.9" fill="#e08a30"/>
<circle cx="292.9" cy="65.7" r="2.9" fill="#b0c040"/>
<circle cx="299.1" cy="65.4" r="2.85" fill="#d87030"/>
<line x1="298.6" y1="40.3" x2="292.4" y2="53.1" stroke="#c8c8c8" stroke-width="0.6"/>
<circle cx="292.3" cy="40.3" r="2.85" fill="#c0303a"/>
<circle cx="298.6" cy="40.3" r="2.85" fill="#e08a30"/>
<circle cx="292.4" cy="53.1" r="2.9" fill="#f0c820"/>
<circle cx="299.5" cy="53.1" r="2.9" fill="#e89a30"/>
<circle cx="292" cy="59.9" r="2.9" fill="#e89a30"/>
<circle cx="299.1" cy="59" r="2.9" fill="#e08a30"/>
<circle cx="292.9" cy="65.7" r="2.9" fill="#b0c040"/>
<circle cx="299.1" cy="65.4" r="2.85" fill="#d87030"/>
<path d="M319.85,40.40 L319.90,39.58 L320.06,38.78 L320.33,38.01 L320.69,37.27 L321.14,36.59 L321.68,35.98 L322.30,35.44 L322.98,34.99 L323.71,34.63 L324.48,34.36 L325.28,34.20 L326.10,34.15 L332.30,34.15 L333.12,34.20 L333.92,34.36 L334.69,34.63 L335.43,34.99 L336.11,35.44 L336.72,35.98 L337.26,36.59 L337.71,37.27 L338.07,38.01 L338.34,38.78 L338.50,39.58 L338.55,40.40 L338.50,41.22 L338.34,42.02 L338.07,42.79 L337.71,43.52 L337.26,44.20 L336.72,44.82 L336.11,45.36 L335.43,45.81 L334.69,46.17 L333.92,46.44 L333.12,46.60 L332.30,46.65 L326.10,46.65 L325.28,46.60 L324.48,46.44 L323.71,46.17 L322.98,45.81 L322.30,45.36 L321.68,44.82 L321.14,44.20 L320.69,43.52 L320.33,42.79 L320.06,42.02 L319.90,41.22Z" fill="#fff" stroke="#e0dbd8" stroke-width="1"/>
<circle cx="326.1" cy="40.4" r="2.85" fill="#3a6a88"/>
<circle cx="332.3" cy="40.4" r="2.85" fill="#3a7088"/>
<path d="M319.70,60.40 L319.90,53.30 L319.95,52.47 L320.12,51.64 L320.39,50.85 L320.76,50.10 L321.22,49.40 L321.77,48.77 L322.40,48.22 L323.10,47.76 L323.85,47.39 L324.64,47.12 L325.46,46.95 L326.30,46.90 L333.40,46.90 L334.24,46.95 L335.06,47.12 L335.85,47.39 L336.60,47.76 L337.30,48.22 L337.93,48.77 L338.48,49.40 L338.94,50.10 L339.31,50.85 L339.58,51.64 L339.75,52.47 L339.80,53.30 L339.60,65.60 L339.55,66.44 L339.38,67.26 L339.11,68.05 L338.74,68.80 L338.28,69.50 L337.73,70.12 L337.10,70.68 L336.40,71.14 L335.65,71.51 L334.86,71.78 L334.04,71.94 L333.20,72.00 L327.00,72.00 L326.17,71.94 L325.34,71.78 L324.55,71.51 L323.80,71.14 L323.10,70.68 L322.48,70.12 L321.92,69.50 L321.46,68.80 L321.09,68.05 L320.82,67.26 L320.65,66.44 L319.75,61.23Z" fill="#fff" stroke="#e0dbd8" stroke-width="1"/>
<circle cx="326.3" cy="53.3" r="2.9" fill="#4a9a50"/>
<circle cx="333.4" cy="53.3" r="2.9" fill="#3a7a80"/>
<circle cx="326.1" cy="60.4" r="2.9" fill="#e0d030"/>
<circle cx="333.2" cy="58.9" r="2.9" fill="#98b848"/>
<circle cx="327" cy="65.6" r="2.9" fill="#60a048"/>
<circle cx="333.2" cy="65.6" r="2.9" fill="#e8a030"/>
<line x1="332.3" y1="40.4" x2="326.3" y2="53.3" stroke="#c8c8c8" stroke-width="0.6"/>
<circle cx="326.1" cy="40.4" r="2.85" fill="#3a6a88"/>
<circle cx="332.3" cy="40.4" r="2.85" fill="#3a7088"/>
<circle cx="326.3" cy="53.3" r="2.9" fill="#4a9a50"/>
<circle cx="333.4" cy="53.3" r="2.9" fill="#3a7a80"/>
<circle cx="326.1" cy="60.4" r="2.9" fill="#e0d030"/>
<circle cx="333.2" cy="58.9" r="2.9" fill="#98b848"/>
<circle cx="327" cy="65.6" r="2.9" fill="#60a048"/>
<circle cx="333.2" cy="65.6" r="2.9" fill="#e8a030"/>
<path d="M353.75,40.40 L353.80,39.58 L353.96,38.78 L354.23,38.01 L354.59,37.27 L355.04,36.59 L355.58,35.98 L356.19,35.44 L356.88,34.99 L357.61,34.63 L358.38,34.36 L359.18,34.20 L360.00,34.15 L366.20,34.15 L367.02,34.20 L367.82,34.36 L368.59,34.63 L369.32,34.99 L370.00,35.44 L370.62,35.98 L371.16,36.59 L371.61,37.27 L371.97,38.01 L372.24,38.78 L372.40,39.58 L372.45,40.40 L372.40,41.22 L372.24,42.02 L371.97,42.79 L371.61,43.52 L371.16,44.20 L370.62,44.82 L370.00,45.36 L369.32,45.81 L368.59,46.17 L367.82,46.44 L367.02,46.60 L366.20,46.65 L360.00,46.65 L359.18,46.60 L358.38,46.44 L357.61,46.17 L356.88,45.81 L356.19,45.36 L355.58,44.82 L355.04,44.20 L354.59,43.52 L354.23,42.79 L353.96,42.02 L353.80,41.22Z" fill="#fff" stroke="#e0dbd8" stroke-width="1"/>
<circle cx="360" cy="40.4" r="2.85" fill="#c03030"/>
<circle cx="366.2" cy="40.4" r="2.85" fill="#d88030"/>
<path d="M353.30,60.40 L353.60,53.50 L353.65,52.66 L353.82,51.84 L354.09,51.05 L354.46,50.30 L354.92,49.60 L355.48,48.98 L356.10,48.42 L356.80,47.96 L357.55,47.59 L358.34,47.32 L359.17,47.16 L366.37,46.55 L367.20,46.50 L368.04,46.55 L368.86,46.72 L369.65,46.99 L370.40,47.36 L371.10,47.82 L371.73,48.38 L372.28,49.00 L372.74,49.70 L373.11,50.45 L373.38,51.24 L373.55,52.06 L373.60,52.90 L373.20,65.60 L373.14,66.44 L372.98,67.26 L372.71,68.05 L372.34,68.80 L371.88,69.50 L371.32,70.12 L370.70,70.68 L370.00,71.14 L369.25,71.51 L368.46,71.78 L367.63,71.94 L366.80,72.00 L360.60,71.80 L359.76,71.75 L358.94,71.58 L358.15,71.31 L357.40,70.94 L356.70,70.48 L356.07,69.92 L355.52,69.30 L355.06,68.60 L354.69,67.85 L354.42,67.06 L354.25,66.23 L353.36,61.23Z" fill="#fff" stroke="#e0dbd8" stroke-width="1"/>
<circle cx="360" cy="53.5" r="2.9" fill="#f0d020"/>
<circle cx="367.2" cy="52.9" r="2.9" fill="#5a9a48"/>
<circle cx="359.7" cy="60.4" r="2.9" fill="#3a8a58"/>
<circle cx="366.8" cy="58.9" r="2.9" fill="#3a8068"/>
<circle cx="360.6" cy="65.4" r="2.9" fill="#4a9a48"/>
<circle cx="366.8" cy="65.6" r="2.9" fill="#3a6888"/>
<line x1="366.2" y1="40.4" x2="360" y2="53.5" stroke="#c8c8c8" stroke-width="0.6"/>
<circle cx="360" cy="40.4" r="2.85" fill="#c03030"/>
<circle cx="366.2" cy="40.4" r="2.85" fill="#d88030"/>
<circle cx="360" cy="53.5" r="2.9" fill="#f0d020"/>
<circle cx="367.2" cy="52.9" r="2.9" fill="#5a9a48"/>
<circle cx="359.7" cy="60.4" r="2.9" fill="#3a8a58"/>
<circle cx="366.8" cy="58.9" r="2.9" fill="#3a8068"/>
<circle cx="360.6" cy="65.4" r="2.9" fill="#4a9a48"/>
<circle cx="366.8" cy="65.6" r="2.9" fill="#3a6888"/>
<path d="M449.15,40.40 L449.20,39.58 L449.36,38.78 L449.63,38.01 L449.99,37.27 L450.44,36.59 L450.98,35.98 L451.60,35.44 L452.27,34.99 L453.01,34.63 L453.78,34.36 L454.58,34.20 L455.40,34.15 L462.90,34.15 L463.72,34.20 L464.52,34.36 L465.29,34.63 L466.02,34.99 L466.70,35.44 L467.32,35.98 L467.86,36.59 L468.31,37.27 L468.67,38.01 L468.94,38.78 L469.10,39.58 L469.15,40.40 L469.10,41.22 L468.94,42.02 L468.67,42.79 L468.31,43.52 L467.86,44.20 L467.32,44.82 L466.70,45.36 L466.02,45.81 L465.29,46.17 L464.52,46.44 L463.72,46.60 L462.90,46.65 L455.40,46.65 L454.58,46.60 L453.78,46.44 L453.01,46.17 L452.27,45.81 L451.60,45.36 L450.98,44.82 L450.44,44.20 L449.99,43.52 L449.63,42.79 L449.36,42.02 L449.20,41.22Z" fill="#fff" stroke="#e0dbd8" stroke-width="1"/>
<line x1="455.4" y1="40.4" x2="462.9" y2="40.4" stroke="#9a9a9a" stroke-width="0.5"/>
<circle cx="455.4" cy="40.4" r="2.95" fill="#f0d020"/>
<circle cx="462.9" cy="40.4" r="2.95" fill="#e8a030"/>
<path d="M463.20,52.10 L463.25,51.28 L463.42,50.47 L463.68,49.69 L464.04,48.95 L464.50,48.27 L465.05,47.65 L465.67,47.10 L466.35,46.64 L467.09,46.28 L467.87,46.02 L468.68,45.85 L469.50,45.80 L470.32,45.85 L471.13,46.02 L471.91,46.28 L472.65,46.64 L473.33,47.10 L473.95,47.65 L478.56,52.65 L479.10,53.27 L479.56,53.95 L479.92,54.69 L480.19,55.47 L480.35,56.28 L480.40,57.10 L480.35,57.92 L480.19,58.73 L479.92,59.51 L479.56,60.25 L479.10,60.94 L478.56,61.55 L477.94,62.10 L477.25,62.56 L476.51,62.92 L475.73,63.19 L474.92,63.35 L474.10,63.40 L473.28,63.35 L472.47,63.19 L471.69,62.92 L470.95,62.56 L470.26,62.10 L469.64,61.55 L465.05,56.55 L464.50,55.94 L464.04,55.25 L463.68,54.51 L463.42,53.73 L463.25,52.92Z" fill="#fff" stroke="#e0dbd8" stroke-width="1"/>
<line x1="469.5" y1="52.1" x2="474.1" y2="57.1" stroke="#9a9a9a" stroke-width="0.5"/>
<circle cx="469.5" cy="52.1" r="3.0" fill="#4a9a50"/>
<circle cx="474.1" cy="57.1" r="3.0" fill="#8ab840"/>
<path d="M476.85,40.40 L476.90,39.58 L477.06,38.78 L477.33,38.01 L477.69,37.27 L478.14,36.59 L478.68,35.98 L479.30,35.44 L479.98,34.99 L480.71,34.63 L481.48,34.36 L482.28,34.20 L483.10,34.15 L490.00,34.15 L490.82,34.20 L491.62,34.36 L492.39,34.63 L493.12,34.99 L493.81,35.44 L494.42,35.98 L494.96,36.59 L495.41,37.27 L495.77,38.01 L496.04,38.78 L496.20,39.58 L496.25,40.40 L496.20,41.22 L496.04,42.02 L495.77,42.79 L495.41,43.52 L494.96,44.20 L494.42,44.82 L493.81,45.36 L493.12,45.81 L492.39,46.17 L491.62,46.44 L490.82,46.60 L490.00,46.65 L483.10,46.65 L482.28,46.60 L481.48,46.44 L480.71,46.17 L479.98,45.81 L479.30,45.36 L478.68,44.82 L478.14,44.20 L477.69,43.52 L477.33,42.79 L477.06,42.02 L476.90,41.22Z" fill="#fff" stroke="#e0dbd8" stroke-width="1"/>
<line x1="483.1" y1="40.4" x2="490" y2="40.4" stroke="#9a9a9a" stroke-width="0.5"/>
<circle cx="483.1" cy="40.4" r="2.95" fill="#d87828"/>
<circle cx="490" cy="40.4" r="2.95" fill="#c83030"/>
<path d="M490.80,52.80 L490.85,51.98 L491.01,51.17 L491.28,50.39 L491.64,49.65 L492.10,48.97 L492.64,48.34 L493.26,47.80 L493.95,47.34 L494.69,46.98 L495.47,46.72 L496.28,46.55 L497.10,46.50 L497.92,46.55 L498.73,46.72 L499.51,46.98 L500.25,47.34 L500.94,47.80 L501.56,48.34 L505.95,53.24 L506.50,53.87 L506.96,54.55 L507.32,55.29 L507.58,56.07 L507.75,56.88 L507.80,57.70 L507.75,58.52 L507.58,59.33 L507.32,60.11 L506.96,60.85 L506.50,61.53 L505.95,62.16 L505.33,62.70 L504.65,63.16 L503.91,63.52 L503.13,63.78 L502.32,63.95 L501.50,64.00 L500.68,63.95 L499.87,63.78 L499.09,63.52 L498.35,63.16 L497.67,62.70 L497.05,62.16 L492.64,57.26 L492.10,56.63 L491.64,55.95 L491.28,55.21 L491.01,54.43 L490.85,53.62Z" fill="#fff" stroke="#e0dbd8" stroke-width="1"/>
<line x1="497.1" y1="52.8" x2="501.5" y2="57.7" stroke="#9a9a9a" stroke-width="0.5"/>
<circle cx="497.1" cy="52.8" r="3.0" fill="#d06030"/>
<circle cx="501.5" cy="57.7" r="3.0" fill="#c83030"/>
<path d="M449.45,93.60 L449.50,92.78 L449.66,91.98 L449.93,91.21 L450.29,90.47 L450.74,89.80 L451.28,89.18 L451.89,88.64 L452.57,88.19 L453.31,87.83 L454.08,87.56 L454.88,87.40 L455.70,87.35 L461.80,87.35 L462.62,87.40 L463.42,87.56 L464.19,87.83 L464.93,88.19 L465.61,88.64 L466.22,89.18 L466.76,89.80 L467.21,90.47 L467.57,91.21 L467.84,91.98 L468.00,92.78 L468.05,93.60 L468.00,94.42 L467.84,95.22 L467.57,95.99 L467.21,96.72 L466.76,97.41 L466.22,98.02 L465.61,98.56 L464.93,99.01 L464.19,99.37 L463.42,99.64 L462.62,99.80 L461.80,99.85 L455.70,99.85 L454.88,99.80 L454.08,99.64 L453.31,99.37 L452.57,99.01 L451.89,98.56 L451.28,98.02 L450.74,97.41 L450.29,96.72 L449.93,95.99 L449.66,95.22 L449.50,94.42Z" fill="#fff" stroke="#e0dbd8" stroke-width="1"/>
<line x1="455.7" y1="93.6" x2="461.8" y2="93.6" stroke="#9a9a9a" stroke-width="0.5"/>
<circle cx="455.7" cy="93.6" r="2.95" fill="#e8a030"/>
<circle cx="461.8" cy="93.6" r="2.95" fill="#e8a030"/>
<path d="M462.40,104.70 L462.45,103.88 L462.62,103.07 L462.88,102.29 L463.24,101.55 L463.70,100.86 L464.25,100.25 L464.87,99.70 L465.55,99.24 L466.29,98.88 L467.07,98.61 L467.88,98.45 L468.70,98.40 L469.52,98.45 L470.33,98.61 L471.11,98.88 L471.85,99.24 L472.54,99.70 L473.15,100.25 L477.75,105.44 L478.30,106.06 L478.76,106.75 L479.12,107.49 L479.38,108.27 L479.55,109.08 L479.60,109.90 L479.55,110.72 L479.38,111.53 L479.12,112.31 L478.76,113.05 L478.30,113.73 L477.75,114.36 L477.13,114.90 L476.45,115.36 L475.71,115.72 L474.93,115.98 L474.12,116.15 L473.30,116.20 L472.48,116.15 L471.67,115.98 L470.89,115.72 L470.15,115.36 L469.46,114.90 L468.85,114.36 L464.25,109.16 L463.70,108.53 L463.24,107.85 L462.88,107.11 L462.62,106.33 L462.45,105.52Z" fill="#fff" stroke="#e0dbd8" stroke-width="1"/>
<line x1="468.7" y1="104.7" x2="473.3" y2="109.9" stroke="#9a9a9a" stroke-width="0.5"/>
<circle cx="468.7" cy="104.7" r="3.0" fill="#4a9a48"/>
<circle cx="473.3" cy="109.9" r="3.0" fill="#e8a030"/>
<path d="M477.75,93.60 L477.80,92.78 L477.96,91.98 L478.23,91.21 L478.59,90.47 L479.04,89.80 L479.58,89.18 L480.19,88.64 L480.88,88.19 L481.61,87.83 L482.38,87.56 L483.18,87.40 L484.00,87.35 L490.80,87.35 L491.62,87.40 L492.42,87.56 L493.19,87.83 L493.93,88.19 L494.61,88.64 L495.22,89.18 L495.76,89.80 L496.21,90.47 L496.57,91.21 L496.84,91.98 L497.00,92.78 L497.05,93.60 L497.00,94.42 L496.84,95.22 L496.57,95.99 L496.21,96.72 L495.76,97.41 L495.22,98.02 L494.61,98.56 L493.93,99.01 L493.19,99.37 L492.42,99.64 L491.62,99.80 L490.80,99.85 L484.00,99.85 L483.18,99.80 L482.38,99.64 L481.61,99.37 L480.88,99.01 L480.19,98.56 L479.58,98.02 L479.04,97.41 L478.59,96.72 L478.23,95.99 L477.96,95.22 L477.80,94.42Z" fill="#fff" stroke="#e0dbd8" stroke-width="1"/>
<line x1="484" y1="93.6" x2="490.8" y2="93.6" stroke="#9a9a9a" stroke-width="0.5"/>
<circle cx="484" cy="93.6" r="2.95" fill="#3a5a88"/>
<circle cx="490.8" cy="93.6" r="2.95" fill="#3a5a88"/>
<path d="M491.40,104.70 L491.45,103.88 L491.62,103.07 L491.88,102.29 L492.24,101.55 L492.70,100.86 L493.25,100.25 L493.87,99.70 L494.55,99.24 L495.29,98.88 L496.07,98.61 L496.88,98.45 L497.70,98.40 L498.52,98.45 L499.33,98.61 L500.11,98.88 L500.85,99.24 L501.54,99.70 L502.15,100.25 L506.95,105.44 L507.50,106.06 L507.96,106.75 L508.32,107.49 L508.58,108.27 L508.75,109.08 L508.80,109.90 L508.75,110.72 L508.58,111.53 L508.32,112.31 L507.96,113.05 L507.50,113.73 L506.95,114.36 L506.33,114.90 L505.65,115.36 L504.91,115.72 L504.13,115.98 L503.32,116.15 L502.50,116.20 L501.68,116.15 L500.87,115.98 L500.09,115.72 L499.35,115.36 L498.67,114.90 L498.05,114.36 L493.25,109.16 L492.70,108.53 L492.24,107.85 L491.88,107.11 L491.62,106.33 L491.45,105.52Z" fill="#fff" stroke="#e0dbd8" stroke-width="1"/>
<line x1="497.7" y1="104.7" x2="502.5" y2="109.9" stroke="#9a9a9a" stroke-width="0.5"/>
<circle cx="497.7" cy="104.7" r="3.0" fill="#d06030"/>
<circle cx="502.5" cy="109.9" r="3.0" fill="#e8a030"/>
<path d="M283.90,112.20 L283.96,111.27 L284.14,110.36 L284.44,109.48 L284.85,108.65 L285.37,107.88 L289.96,101.59 L290.49,100.99 L291.09,100.46 L291.75,100.02 L292.47,99.66 L300.25,96.19 L301.04,95.92 L301.87,95.75 L302.70,95.70 L303.54,95.75 L304.36,95.92 L305.15,96.19 L305.90,96.56 L306.60,97.02 L307.23,97.58 L307.78,98.20 L308.24,98.90 L308.61,99.65 L308.88,100.44 L309.05,101.27 L309.10,102.10 L309.60,111.80 L309.53,112.83 L309.33,113.84 L309.00,114.82 L308.54,115.75 L307.97,116.61 L307.29,117.39 L306.51,118.07 L305.65,118.64 L304.72,119.10 L303.75,119.43 L302.73,119.63 L301.70,119.70 L291.00,119.30 L290.07,119.24 L289.16,119.06 L288.28,118.76 L287.45,118.35 L286.68,117.83 L285.98,117.22 L285.37,116.52 L284.85,115.75 L284.44,114.92 L284.14,114.04 L283.96,113.13Z" fill="#fff" stroke="#e0dbd8" stroke-width="1"/>
<circle cx="302.7" cy="102.1" r="3.2" fill="#5aa048"/>
<circle cx="294.8" cy="105.3" r="2.9" fill="#3a7078"/>
<circle cx="291" cy="112.2" r="3.9" fill="#3a5a88"/>
<circle cx="301.7" cy="111.8" r="4.7" fill="#3a6088"/>
<path d="M269.90,128.80 L269.96,127.85 L270.15,126.91 L270.46,126.01 L274.01,117.54 L274.40,116.75 L274.88,116.02 L275.46,115.36 L276.12,114.78 L276.85,114.30 L277.64,113.91 L278.47,113.63 L279.32,113.46 L280.20,113.40 L281.07,113.46 L281.93,113.63 L282.76,113.91 L283.55,114.30 L284.28,114.78 L284.94,115.36 L292.13,122.47 L292.77,123.19 L293.31,124.00 L293.74,124.87 L294.05,125.78 L294.24,126.73 L294.30,127.70 L294.24,128.67 L294.05,129.62 L293.74,130.53 L293.31,131.40 L292.77,132.21 L292.13,132.93 L291.40,133.57 L290.60,134.11 L289.73,134.54 L288.81,134.85 L287.87,135.04 L278.15,136.04 L277.20,136.10 L276.25,136.04 L275.31,135.85 L274.41,135.54 L273.55,135.12 L272.76,134.59 L272.04,133.96 L271.41,133.24 L270.88,132.45 L270.46,131.59 L270.15,130.69 L269.96,129.75Z" fill="#fff" stroke="#e0dbd8" stroke-width="1"/>
<circle cx="280.2" cy="120.1" r="3.5" fill="#3a5088"/>
<circle cx="277.2" cy="128.8" r="4.1" fill="#3a7080"/>
<circle cx="286.9" cy="127.7" r="4.2" fill="#3a5088"/>
<path d="M294.30,139.30 L294.70,125.20 L294.77,124.18 L294.97,123.18 L295.29,122.22 L295.75,121.30 L296.31,120.45 L296.99,119.69 L297.75,119.01 L298.60,118.44 L299.51,117.99 L300.48,117.67 L301.48,117.47 L302.50,117.40 L303.52,117.47 L304.52,117.67 L305.49,117.99 L306.40,118.44 L315.95,123.80 L316.68,124.28 L317.34,124.86 L317.92,125.52 L318.40,126.25 L318.79,127.04 L319.07,127.87 L319.24,128.72 L319.30,129.60 L319.24,130.47 L318.04,141.19 L317.84,142.17 L317.52,143.11 L317.08,144.00 L316.53,144.83 L315.87,145.57 L315.13,146.23 L314.30,146.78 L313.41,147.22 L312.47,147.54 L311.49,147.74 L310.50,147.80 L309.51,147.74 L308.53,147.54 L298.75,145.10 L298.00,144.84 L297.30,144.50 L296.65,144.06 L296.06,143.54 L295.54,142.95 L295.10,142.30 L294.76,141.60 L294.50,140.85 L294.35,140.08Z" fill="#fff" stroke="#e0dbd8" stroke-width="1"/>
<circle cx="302.5" cy="125.2" r="4.6" fill="#3a6088"/>
<circle cx="312.6" cy="129.6" r="3.5" fill="#3a8068"/>
<circle cx="305.2" cy="133.2" r="3.0" fill="#3a6080"/>
<circle cx="300.3" cy="139.3" r="2.8" fill="#70a838"/>
<circle cx="310.5" cy="140.2" r="4.4" fill="#2e4488"/>
<path d="M338.50,111.80 L338.56,110.89 L338.74,109.99 L339.03,109.12 L339.44,108.30 L344.03,101.30 L344.48,100.63 L345.02,100.02 L345.63,99.48 L346.30,99.03 L347.03,98.67 L354.81,95.39 L355.62,95.12 L356.45,94.96 L357.30,94.90 L358.15,94.96 L358.98,95.12 L359.79,95.39 L360.55,95.77 L361.26,96.24 L361.90,96.80 L362.46,97.44 L362.93,98.15 L363.31,98.91 L363.58,99.72 L363.74,100.55 L363.80,101.40 L364.00,111.10 L363.93,112.16 L363.72,113.20 L363.38,114.20 L362.92,115.15 L362.33,116.03 L361.63,116.83 L360.83,117.53 L359.95,118.11 L359.00,118.58 L358.00,118.92 L356.96,119.13 L355.90,119.20 L345.50,118.80 L344.59,118.74 L343.69,118.56 L342.82,118.27 L342.00,117.86 L341.24,117.35 L340.55,116.75 L339.95,116.06 L339.44,115.30 L339.03,114.48 L338.74,113.61 L338.56,112.71Z" fill="#fff" stroke="#e0dbd8" stroke-width="1"/>
<circle cx="357.3" cy="101.4" r="3.3" fill="#98b840"/>
<circle cx="349.4" cy="104.4" r="3.0" fill="#e09030"/>
<circle cx="345.5" cy="111.8" r="3.8" fill="#4a9a48"/>
<circle cx="355.9" cy="111.1" r="4.9" fill="#f0c830"/>
<path d="M323.90,128.80 L323.96,127.82 L324.16,126.86 L324.47,125.93 L328.69,117.21 L329.07,116.45 L329.54,115.74 L330.10,115.10 L330.74,114.54 L331.45,114.07 L332.21,113.69 L333.02,113.42 L333.85,113.26 L334.70,113.20 L335.55,113.26 L336.38,113.42 L337.19,113.69 L337.95,114.07 L338.66,114.54 L339.30,115.10 L346.85,121.95 L347.51,122.71 L348.07,123.55 L348.51,124.45 L348.84,125.41 L349.03,126.39 L349.10,127.40 L349.03,128.41 L348.84,129.39 L348.51,130.35 L348.07,131.25 L347.51,132.09 L346.85,132.84 L346.09,133.51 L345.25,134.07 L344.35,134.51 L343.39,134.84 L342.40,135.03 L332.38,136.24 L331.40,136.30 L330.42,136.24 L329.46,136.04 L328.53,135.73 L327.65,135.29 L326.83,134.75 L326.10,134.10 L325.45,133.37 L324.90,132.55 L324.47,131.67 L324.16,130.74 L323.96,129.78Z" fill="#fff" stroke="#e0dbd8" stroke-width="1"/>
<circle cx="334.7" cy="119.7" r="3.3" fill="#3a4a90"/>
<circle cx="331.4" cy="128.8" r="4.3" fill="#3a6888"/>
<circle cx="341.4" cy="127.4" r="4.5" fill="#3a4a90"/>
<path d="M348.80,124.90 L348.87,123.86 L349.07,122.83 L349.41,121.84 L349.87,120.90 L350.45,120.03 L351.14,119.24 L351.93,118.55 L352.80,117.97 L353.74,117.51 L354.73,117.17 L355.76,116.97 L356.80,116.90 L357.84,116.97 L358.87,117.17 L359.86,117.51 L360.80,117.97 L370.45,123.60 L371.18,124.08 L371.84,124.66 L372.42,125.32 L372.90,126.05 L373.29,126.84 L373.57,127.67 L373.74,128.53 L373.80,129.40 L373.74,130.28 L372.63,141.19 L372.44,142.17 L372.12,143.11 L371.68,144.00 L371.13,144.83 L370.47,145.57 L369.73,146.23 L368.90,146.78 L368.01,147.22 L367.07,147.54 L366.09,147.74 L365.10,147.80 L364.11,147.74 L363.13,147.54 L353.20,144.60 L352.48,144.36 L351.80,144.02 L351.17,143.60 L350.60,143.10 L350.10,142.53 L349.68,141.90 L349.34,141.22 L349.10,140.50 L348.95,139.76 L348.90,139.00Z" fill="#fff" stroke="#e0dbd8" stroke-width="1"/>
<circle cx="356.8" cy="124.9" r="4.8" fill="#e08c30"/>
<circle cx="367.1" cy="129.4" r="3.5" fill="#d05c30"/>
<circle cx="359.6" cy="133.1" r="3.05" fill="#c85030"/>
<circle cx="354.7" cy="139" r="2.6" fill="#c83030"/>
<circle cx="365.1" cy="140.2" r="4.4" fill="#d06030"/>
<path d="M316.50,164.70 L316.56,163.79 L316.74,162.89 L317.03,162.02 L317.44,161.20 L321.63,154.60 L322.08,153.93 L322.62,153.32 L323.23,152.78 L323.90,152.33 L324.63,151.97 L332.85,148.49 L333.64,148.22 L334.46,148.06 L335.30,148.00 L336.13,148.06 L336.96,148.22 L337.75,148.49 L338.50,148.86 L339.20,149.32 L339.82,149.88 L340.38,150.50 L340.84,151.20 L341.21,151.95 L341.48,152.74 L341.64,153.56 L341.70,154.40 L341.50,164.10 L341.43,165.14 L341.23,166.17 L340.89,167.16 L340.43,168.10 L339.85,168.97 L339.16,169.76 L338.37,170.45 L337.50,171.03 L336.56,171.49 L335.57,171.83 L334.54,172.03 L333.50,172.10 L323.50,171.70 L322.59,171.64 L321.69,171.46 L320.82,171.17 L320.00,170.76 L319.24,170.25 L318.55,169.65 L317.95,168.96 L317.44,168.20 L317.03,167.38 L316.74,166.51 L316.56,165.61Z" fill="#fff" stroke="#e0dbd8" stroke-width="1"/>
<circle cx="335.3" cy="154.4" r="3.2" fill="#c83030"/>
<circle cx="327" cy="157.7" r="3.0" fill="#d07030"/>
<circle cx="323.5" cy="164.7" r="3.8" fill="#e09030"/>
<circle cx="333.5" cy="164.1" r="4.8" fill="#f0c828"/>
<path d="M301.70,181.30 L301.76,180.35 L301.95,179.41 L302.26,178.51 L302.68,177.65 L306.87,169.15 L307.34,168.44 L307.90,167.80 L308.54,167.24 L309.25,166.77 L310.01,166.40 L310.82,166.12 L311.65,165.96 L312.50,165.90 L313.35,165.96 L314.18,166.12 L314.99,166.40 L315.75,166.77 L316.46,167.24 L317.10,167.80 L324.40,175.00 L325.05,175.73 L325.60,176.55 L326.03,177.43 L326.34,178.36 L326.54,179.32 L326.60,180.30 L326.54,181.28 L326.34,182.24 L326.03,183.17 L325.60,184.05 L325.05,184.87 L324.40,185.60 L323.67,186.25 L322.85,186.79 L321.97,187.23 L321.04,187.54 L320.08,187.74 L309.95,188.54 L309.00,188.60 L308.05,188.54 L307.11,188.35 L306.21,188.04 L305.35,187.62 L304.56,187.09 L303.84,186.46 L303.21,185.74 L302.68,184.95 L302.26,184.09 L301.95,183.19 L301.76,182.25Z" fill="#fff" stroke="#e0dbd8" stroke-width="1"/>
<circle cx="312.5" cy="172.4" r="3.3" fill="#3a4a90"/>
<circle cx="309" cy="181.3" r="4.1" fill="#3a6a80"/>
<circle cx="319.1" cy="180.3" r="4.3" fill="#3a4a90"/>
<path d="M326.60,177.50 L326.67,176.46 L326.87,175.43 L327.21,174.44 L327.67,173.50 L328.25,172.63 L328.94,171.84 L329.73,171.15 L330.60,170.57 L331.54,170.11 L332.53,169.77 L333.56,169.57 L334.60,169.50 L335.64,169.57 L336.67,169.77 L337.66,170.11 L338.60,170.57 L348.40,175.81 L349.14,176.31 L349.81,176.89 L350.39,177.56 L350.89,178.30 L351.28,179.10 L351.57,179.94 L351.74,180.81 L351.80,181.70 L351.74,182.59 L350.33,193.10 L350.14,194.09 L349.81,195.05 L349.37,195.95 L348.81,196.79 L348.14,197.54 L347.39,198.21 L346.55,198.77 L345.65,199.21 L344.69,199.54 L343.70,199.73 L342.70,199.80 L341.69,199.73 L340.71,199.54 L330.97,197.50 L330.24,197.25 L329.55,196.91 L328.91,196.48 L328.33,195.97 L327.82,195.39 L327.39,194.75 L327.05,194.06 L326.80,193.33 L326.65,192.57 L326.60,191.80Z" fill="#fff" stroke="#e0dbd8" stroke-width="1"/>
<circle cx="334.6" cy="177.5" r="4.8" fill="#e8b030"/>
<circle cx="345" cy="181.7" r="3.6" fill="#a8b840"/>
<circle cx="337.4" cy="185.4" r="3.0" fill="#b0b840"/>
<circle cx="332.5" cy="191.8" r="2.7" fill="#d0c830"/>
<circle cx="342.7" cy="192.1" r="4.5" fill="#4a9a50"/>
<path d="M430.20,159.90 L430.25,159.06 L430.42,158.24 L430.69,157.45 L433.49,150.75 L436.01,144.84 L436.40,144.05 L436.88,143.32 L437.46,142.66 L438.12,142.09 L438.85,141.60 L439.64,141.21 L440.47,140.93 L447.64,139.03 L448.51,138.86 L449.40,138.80 L450.29,138.86 L451.16,139.03 L452.00,139.32 L452.80,139.71 L453.54,140.21 L454.21,140.79 L454.80,141.46 L455.29,142.20 L455.68,143.00 L455.97,143.84 L456.14,144.71 L456.20,145.60 L456.14,146.49 L455.97,147.36 L453.68,154.18 L453.40,154.99 L453.03,155.75 L446.52,168.30 L446.04,169.02 L445.47,169.67 L444.82,170.24 L444.10,170.72 L443.33,171.10 L442.51,171.38 L441.66,171.54 L440.80,171.60 L439.94,171.54 L439.09,171.38 L438.27,171.10 L437.50,170.72 L436.78,170.24 L436.13,169.67 L435.56,169.02 L431.52,163.80 L431.06,163.10 L430.69,162.35 L430.42,161.56 L430.25,160.74Z" fill="#fff" stroke="#e0dbd8" stroke-width="1"/>
<line x1="442.2" y1="147.4" x2="449.4" y2="145.6" stroke="#555" stroke-width="0.5"/>
<line x1="442.2" y1="147.4" x2="447.4" y2="152.5" stroke="#555" stroke-width="0.5"/>
<line x1="439.4" y1="153.2" x2="447.4" y2="152.5" stroke="#555" stroke-width="0.5"/>
<line x1="447.4" y1="152.5" x2="443.5" y2="157.7" stroke="#555" stroke-width="0.5"/>
<line x1="436.6" y1="159.9" x2="443.5" y2="157.7" stroke="#555" stroke-width="0.5"/>
<line x1="443.5" y1="157.7" x2="440.8" y2="165" stroke="#555" stroke-width="0.5"/>
<circle cx="442.2" cy="147.4" r="3.3" fill="#4a9a50"/>
<circle cx="449.4" cy="145.6" r="3.4" fill="#3a7a70"/>
<circle cx="439.4" cy="153.2" r="3.0" fill="#e8b030"/>
<circle cx="447.4" cy="152.5" r="3.1" fill="#e8b030"/>
<circle cx="436.6" cy="159.9" r="3.0" fill="#d07830"/>
<circle cx="443.5" cy="157.7" r="3.0" fill="#c83838"/>
<circle cx="440.8" cy="165" r="3.2" fill="#c83838"/>
<g transform="translate(-36.5,244.9) scale(0.797)">
<path d="M110.30,55.00 L110.37,53.99 L110.56,53.01 L110.89,52.05 L111.33,51.15 L111.89,50.31 L112.56,49.55 L113.31,48.89 L114.15,48.33 L115.05,47.89 L116.01,47.56 L117.00,47.37 L118.00,47.30 L124.80,47.30 L125.81,47.37 L126.79,47.56 L127.75,47.89 L128.65,48.33 L129.49,48.89 L130.25,49.55 L130.91,50.31 L131.47,51.15 L131.91,52.05 L132.24,53.01 L132.43,53.99 L132.50,55.00 L132.43,56.01 L132.24,56.99 L131.91,57.95 L131.47,58.85 L130.91,59.69 L130.25,60.45 L129.49,61.11 L128.65,61.67 L127.75,62.11 L126.79,62.44 L125.81,62.63 L124.80,62.70 L118.00,62.70 L117.00,62.63 L116.01,62.44 L115.05,62.11 L114.15,61.67 L113.31,61.11 L112.56,60.45 L111.89,59.69 L111.33,58.85 L110.89,57.95 L110.56,56.99 L110.37,56.01Z" fill="#fff" stroke="#d9d4d0" stroke-width="1.0" vector-effect="non-scaling-stroke"/>
<path d="M110.10,77.00 L110.16,76.03 L110.81,68.54 L111.00,67.60 L111.31,66.69 L111.73,65.83 L112.27,65.03 L112.90,64.30 L113.63,63.67 L114.42,63.13 L115.29,62.71 L116.20,62.40 L117.14,62.21 L118.10,62.15 L126.00,61.85 L126.97,61.91 L127.93,62.10 L128.85,62.42 L129.72,62.85 L130.53,63.39 L131.27,64.03 L131.91,64.77 L132.45,65.58 L132.88,66.45 L133.20,67.37 L133.39,68.33 L133.45,69.30 L133.05,83.00 L132.99,83.97 L132.80,84.93 L132.48,85.85 L132.05,86.72 L131.51,87.53 L130.87,88.27 L130.13,88.91 L129.32,89.45 L128.45,89.88 L127.53,90.20 L126.57,90.39 L125.60,90.45 L118.70,90.45 L117.73,90.39 L116.77,90.20 L115.85,89.88 L114.97,89.45 L114.17,88.91 L113.43,88.27 L112.79,87.53 L112.25,86.72 L111.82,85.85 L111.50,84.93 L111.31,83.97 L110.16,77.97Z" fill="#fff" stroke="#d9d4d0" stroke-width="1.0" vector-effect="non-scaling-stroke"/>
<path d="M110.60,98.00 L110.66,97.07 L110.84,96.16 L111.14,95.28 L111.55,94.45 L112.07,93.68 L112.68,92.98 L113.38,92.37 L114.15,91.85 L114.98,91.44 L115.86,91.14 L116.77,90.96 L117.70,90.90 L125.40,90.90 L126.33,90.96 L127.24,91.14 L128.12,91.44 L128.95,91.85 L129.72,92.37 L130.42,92.98 L131.03,93.68 L131.55,94.45 L131.96,95.28 L132.26,96.16 L132.44,97.07 L132.50,98.00 L132.44,98.93 L132.26,99.84 L131.96,100.72 L131.55,101.55 L131.03,102.32 L130.42,103.02 L129.72,103.63 L128.95,104.15 L128.12,104.56 L127.24,104.86 L126.33,105.04 L125.40,105.10 L117.70,105.10 L116.77,105.04 L115.86,104.86 L114.98,104.56 L114.15,104.15 L113.38,103.63 L112.68,103.02 L112.07,102.32 L111.55,101.55 L111.14,100.72 L110.84,99.84 L110.66,98.93Z" fill="#fff" stroke="#d9d4d0" stroke-width="1.0" vector-effect="non-scaling-stroke"/>
<path d="M125.90,111.00 L125.96,110.03 L126.15,109.08 L126.46,108.17 L126.89,107.30 L127.43,106.50 L128.07,105.77 L128.79,105.13 L129.60,104.59 L130.47,104.16 L131.38,103.85 L132.33,103.66 L133.30,103.60 L134.27,103.66 L135.22,103.85 L136.13,104.16 L137.00,104.59 L137.81,105.13 L138.53,105.77 L139.17,106.50 L143.45,112.14 L143.96,112.90 L144.37,113.72 L144.66,114.59 L144.84,115.49 L144.90,116.40 L144.84,117.31 L144.66,118.21 L144.37,119.08 L143.96,119.90 L143.45,120.66 L142.85,121.35 L142.16,121.95 L141.40,122.46 L140.58,122.87 L139.71,123.16 L138.81,123.34 L137.90,123.40 L136.99,123.34 L136.09,123.16 L135.22,122.87 L134.40,122.46 L133.64,121.95 L132.95,121.35 L128.07,116.23 L127.43,115.50 L126.89,114.70 L126.46,113.83 L126.15,112.92 L125.96,111.97Z" fill="#fff" stroke="#d9d4d0" stroke-width="1.0" vector-effect="non-scaling-stroke"/>
<path d="M142.00,134.40 L142.07,133.33 L143.26,123.03 L143.45,122.08 L143.76,121.17 L144.19,120.30 L144.73,119.50 L145.37,118.77 L146.09,118.13 L146.90,117.59 L147.77,117.16 L148.69,116.85 L149.63,116.66 L150.60,116.60 L151.57,116.66 L152.51,116.85 L153.43,117.16 L154.30,117.59 L161.05,122.06 L161.91,122.63 L162.69,123.31 L163.37,124.09 L163.94,124.95 L164.40,125.88 L164.73,126.86 L164.93,127.87 L166.53,136.47 L166.60,137.50 L166.53,138.53 L166.33,139.54 L166.00,140.52 L165.54,141.45 L164.97,142.31 L164.29,143.09 L163.51,143.77 L162.65,144.34 L161.72,144.80 L160.75,145.13 L159.73,145.33 L158.70,145.40 L157.67,145.33 L156.66,145.13 L148.08,142.32 L147.06,141.98 L146.10,141.50 L145.21,140.91 L144.40,140.20 L143.69,139.39 L143.10,138.50 L142.62,137.54 L142.28,136.52 L142.07,135.47Z" fill="#fff" stroke="#d9d4d0" stroke-width="1.0" vector-effect="non-scaling-stroke"/>
<path d="M90.40,122.90 L90.47,121.82 L90.68,120.75 L91.03,119.72 L91.51,118.75 L92.11,117.85 L96.99,110.82 L97.61,110.11 L98.32,109.49 L99.10,108.97 L99.94,108.55 L108.77,104.66 L109.69,104.35 L110.63,104.16 L111.60,104.10 L112.57,104.16 L113.52,104.35 L114.43,104.66 L115.30,105.09 L116.11,105.63 L116.83,106.27 L117.47,107.00 L118.01,107.80 L118.44,108.67 L118.75,109.58 L118.94,110.53 L119.00,111.50 L119.20,122.40 L119.12,123.60 L118.89,124.78 L118.50,125.92 L117.97,127.00 L117.30,128.00 L116.50,128.91 L115.60,129.70 L114.60,130.37 L113.52,130.90 L112.38,131.29 L111.20,131.52 L110.00,131.60 L98.70,131.20 L97.62,131.13 L96.55,130.92 L95.52,130.57 L94.55,130.09 L93.65,129.49 L92.83,128.77 L92.11,127.95 L91.51,127.05 L91.03,126.08 L90.68,125.05 L90.47,123.98Z" fill="#fff" stroke="#d9d4d0" stroke-width="1.0" vector-effect="non-scaling-stroke"/>
<path d="M72.55,141.30 L72.62,140.16 L72.85,139.05 L73.21,137.97 L77.50,128.98 L77.96,128.05 L78.53,127.19 L79.21,126.41 L79.99,125.73 L80.85,125.16 L81.78,124.70 L82.75,124.37 L83.77,124.17 L84.80,124.10 L85.83,124.17 L86.84,124.37 L87.82,124.70 L88.75,125.16 L89.61,125.73 L90.39,126.41 L98.29,133.91 L99.06,134.78 L99.71,135.75 L100.22,136.79 L100.60,137.90 L100.82,139.04 L100.90,140.20 L100.82,141.36 L100.60,142.50 L100.22,143.61 L99.71,144.65 L99.06,145.62 L98.29,146.49 L97.42,147.26 L96.45,147.91 L95.41,148.42 L94.30,148.80 L93.16,149.02 L82.39,149.93 L81.25,150.00 L80.11,149.93 L79.00,149.70 L77.92,149.34 L76.90,148.83 L75.95,148.20 L75.10,147.45 L74.35,146.60 L73.72,145.65 L73.21,144.63 L72.85,143.55 L72.62,142.44Z" fill="#fff" stroke="#d9d4d0" stroke-width="1.0" vector-effect="non-scaling-stroke"/>
<path d="M101.75,152.80 L101.90,137.20 L101.98,135.99 L102.22,134.79 L102.61,133.64 L103.15,132.55 L103.82,131.54 L104.62,130.62 L105.54,129.82 L106.55,129.15 L107.64,128.61 L108.79,128.22 L109.99,127.98 L111.20,127.90 L112.41,127.98 L113.61,128.22 L114.76,128.61 L115.85,129.15 L126.25,135.06 L127.11,135.63 L127.89,136.31 L128.57,137.09 L129.14,137.95 L129.60,138.88 L129.93,139.85 L130.13,140.87 L130.20,141.90 L130.13,142.93 L128.92,154.88 L128.69,156.03 L128.31,157.14 L127.79,158.20 L127.14,159.18 L126.36,160.06 L125.48,160.84 L124.50,161.49 L123.44,162.01 L122.33,162.39 L121.17,162.62 L120.00,162.70 L118.83,162.62 L117.67,162.39 L106.90,159.51 L106.04,159.22 L105.22,158.82 L104.47,158.31 L103.79,157.71 L103.19,157.03 L102.68,156.28 L102.28,155.46 L101.99,154.60 L101.81,153.71Z" fill="#fff" stroke="#d9d4d0" stroke-width="1.0" vector-effect="non-scaling-stroke"/>
<path d="M56.85,172.30 L56.91,171.39 L57.09,170.50 L57.38,169.64 L63.16,156.17 L63.59,155.30 L64.13,154.50 L64.77,153.77 L65.50,153.13 L66.30,152.59 L67.17,152.16 L68.08,151.85 L75.63,149.46 L76.61,149.26 L77.60,149.20 L78.59,149.26 L79.57,149.46 L80.51,149.78 L81.40,150.22 L82.23,150.77 L82.97,151.43 L83.63,152.17 L84.18,153.00 L84.62,153.89 L84.94,154.83 L85.14,155.81 L85.20,156.80 L85.14,157.79 L84.94,158.77 L82.45,166.46 L82.15,167.35 L81.73,168.20 L74.42,182.05 L73.89,182.84 L73.26,183.56 L72.54,184.19 L71.75,184.72 L70.89,185.14 L69.99,185.45 L69.05,185.64 L68.10,185.70 L67.15,185.64 L66.21,185.45 L65.31,185.14 L64.45,184.72 L63.66,184.19 L62.94,183.56 L62.31,182.84 L61.78,182.05 L57.78,175.78 L57.38,174.96 L57.09,174.10 L56.91,173.21Z" fill="#fff" stroke="#d9d4d0" stroke-width="1.0" vector-effect="non-scaling-stroke"/>
<path d="M89.40,186.00 L89.46,185.07 L90.78,175.71 L91.01,174.54 L91.39,173.42 L91.92,172.35 L92.58,171.36 L99.93,161.79 L100.57,161.07 L101.30,160.43 L102.10,159.89 L102.97,159.46 L103.89,159.15 L104.83,158.96 L105.80,158.90 L106.77,158.96 L107.72,159.15 L108.63,159.46 L109.50,159.89 L110.31,160.43 L111.03,161.07 L118.60,168.20 L119.45,169.17 L120.17,170.25 L120.75,171.41 L121.16,172.64 L121.42,173.91 L121.50,175.20 L121.00,186.00 L120.93,187.08 L120.72,188.15 L120.37,189.18 L119.89,190.15 L119.28,191.05 L118.57,191.87 L117.75,192.59 L116.85,193.19 L115.88,193.67 L114.85,194.02 L113.78,194.23 L112.70,194.30 L111.62,194.23 L95.57,193.04 L94.66,192.86 L93.78,192.56 L92.95,192.15 L92.18,191.63 L91.48,191.02 L90.87,190.32 L90.35,189.55 L89.94,188.72 L89.64,187.84 L89.46,186.93Z" fill="#fff" stroke="#d9d4d0" stroke-width="1.0" vector-effect="non-scaling-stroke"/>
<line x1="124.8" y1="55" x2="118.1" y2="69.5" stroke="#c8c8c8" stroke-width="0.6" vector-effect="non-scaling-stroke"/>
<line x1="118.7" y1="83" x2="117.7" y2="98" stroke="#c8c8c8" stroke-width="0.6" vector-effect="non-scaling-stroke"/>
<line x1="125.6" y1="83" x2="125.4" y2="98" stroke="#c8c8c8" stroke-width="0.6" vector-effect="non-scaling-stroke"/>
<line x1="125.4" y1="98" x2="133.3" y2="111" stroke="#c8c8c8" stroke-width="0.6" vector-effect="non-scaling-stroke"/>
<line x1="117.7" y1="98" x2="111.6" y2="111.5" stroke="#c8c8c8" stroke-width="0.6" vector-effect="non-scaling-stroke"/>
<line x1="137.9" y1="116.4" x2="150.6" y2="124" stroke="#c8c8c8" stroke-width="0.6" vector-effect="non-scaling-stroke"/>
<line x1="98.7" y1="122.9" x2="84.8" y2="132" stroke="#c8c8c8" stroke-width="0.6" vector-effect="non-scaling-stroke"/>
<line x1="110" y1="122.4" x2="111.2" y2="137.2" stroke="#c8c8c8" stroke-width="0.6" vector-effect="non-scaling-stroke"/>
<line x1="81.25" y1="141.3" x2="70" y2="159" stroke="#c8c8c8" stroke-width="0.6" vector-effect="non-scaling-stroke"/>
<line x1="108.7" y1="152.8" x2="105.8" y2="166.3" stroke="#c8c8c8" stroke-width="0.6" vector-effect="non-scaling-stroke"/>
<circle cx="118" cy="55" r="3.35" fill="#e09030"/>
<circle cx="124.8" cy="55" r="3.35" fill="#f0c820"/>
<circle cx="118.1" cy="69.5" r="3.0" fill="#c8c030"/>
<circle cx="126" cy="69.3" r="3.1" fill="#a8b840"/>
<circle cx="117.5" cy="77" r="3.05" fill="#78a840"/>
<circle cx="125.6" cy="75.8" r="3.2" fill="#4a9a50"/>
<circle cx="118.7" cy="83" r="3.1" fill="#98b840"/>
<circle cx="125.6" cy="83" r="3.1" fill="#3a4a8a"/>
<circle cx="117.7" cy="98" r="3.2" fill="#b0c038"/>
<circle cx="125.4" cy="98" r="3.2" fill="#4a9a50"/>
<circle cx="133.3" cy="111" r="3.5" fill="#3a6a78"/>
<circle cx="137.9" cy="116.4" r="3.1" fill="#3a6a78"/>
<circle cx="150.6" cy="124" r="3.5" fill="#3a7070"/>
<circle cx="157.1" cy="128.9" r="4.0" fill="#4a9a58"/>
<circle cx="150.2" cy="134.4" r="4.3" fill="#3a5088"/>
<circle cx="158.7" cy="137.5" r="4.0" fill="#3a7a78"/>
<circle cx="102.7" cy="115.2" r="3.3" fill="#4a9a48"/>
<circle cx="111.6" cy="111.5" r="3.5" fill="#4a9a48"/>
<circle cx="98.7" cy="122.9" r="4.4" fill="#5aa048"/>
<circle cx="110" cy="122.4" r="5.3" fill="#4a9a5a"/>
<circle cx="84.8" cy="132" r="4.0" fill="#c83030"/>
<circle cx="81.25" cy="141.3" r="4.8" fill="#d07030"/>
<circle cx="92" cy="140.2" r="5.0" fill="#c83030"/>
<circle cx="111.2" cy="137.2" r="5.4" fill="#3a7a70"/>
<circle cx="122.3" cy="141.9" r="4.0" fill="#3a7080"/>
<circle cx="113.9" cy="146.3" r="3.5" fill="#3a4a88"/>
<circle cx="108.7" cy="152.8" r="3.05" fill="#4a9a50"/>
<circle cx="120" cy="153.7" r="5.1" fill="#3a6088"/>
<circle cx="77.6" cy="156.8" r="3.7" fill="#b8c030"/>
<circle cx="70" cy="159" r="3.5" fill="#f0d020"/>
<circle cx="67" cy="165.8" r="3.05" fill="#78a840"/>
<circle cx="75.5" cy="164.6" r="3.3" fill="#88b040"/>
<circle cx="63.8" cy="172.3" r="3.05" fill="#d8c830"/>
<circle cx="71.2" cy="170.7" r="3.0" fill="#f0d020"/>
<circle cx="68.1" cy="178.4" r="3.4" fill="#a0b840"/>
<circle cx="105.8" cy="166.3" r="3.5" fill="#3a5088"/>
<circle cx="99.8" cy="176.9" r="5.2" fill="#3a4a88"/>
<circle cx="111.6" cy="175.2" r="6.0" fill="#3a5a88"/>
<circle cx="96.5" cy="186" r="3.2" fill="#3a4088"/>
<circle cx="112.7" cy="186" r="4.4" fill="#3a7078"/>
</g>
<g transform="translate(73.5,243.4) scale(0.797)">
<path d="M110.30,55.00 L110.37,53.99 L110.56,53.01 L110.89,52.05 L111.33,51.15 L111.89,50.31 L112.56,49.55 L113.31,48.89 L114.15,48.33 L115.05,47.89 L116.01,47.56 L117.00,47.37 L118.00,47.30 L124.80,47.30 L125.81,47.37 L126.79,47.56 L127.75,47.89 L128.65,48.33 L129.49,48.89 L130.25,49.55 L130.91,50.31 L131.47,51.15 L131.91,52.05 L132.24,53.01 L132.43,53.99 L132.50,55.00 L132.43,56.01 L132.24,56.99 L131.91,57.95 L131.47,58.85 L130.91,59.69 L130.25,60.45 L129.49,61.11 L128.65,61.67 L127.75,62.11 L126.79,62.44 L125.81,62.63 L124.80,62.70 L118.00,62.70 L117.00,62.63 L116.01,62.44 L115.05,62.11 L114.15,61.67 L113.31,61.11 L112.56,60.45 L111.89,59.69 L111.33,58.85 L110.89,57.95 L110.56,56.99 L110.37,56.01Z" fill="#fff" stroke="#d9d4d0" stroke-width="1.0" vector-effect="non-scaling-stroke"/>
<path d="M110.10,77.00 L110.16,76.03 L110.81,68.54 L111.00,67.60 L111.31,66.69 L111.73,65.83 L112.27,65.03 L112.90,64.30 L113.63,63.67 L114.42,63.13 L115.29,62.71 L116.20,62.40 L117.14,62.21 L118.10,62.15 L126.00,61.85 L126.97,61.91 L127.93,62.10 L128.85,62.42 L129.72,62.85 L130.53,63.39 L131.27,64.03 L131.91,64.77 L132.45,65.58 L132.88,66.45 L133.20,67.37 L133.39,68.33 L133.45,69.30 L133.05,83.00 L132.99,83.97 L132.80,84.93 L132.48,85.85 L132.05,86.72 L131.51,87.53 L130.87,88.27 L130.13,88.91 L129.32,89.45 L128.45,89.88 L127.53,90.20 L126.57,90.39 L125.60,90.45 L118.70,90.45 L117.73,90.39 L116.77,90.20 L115.85,89.88 L114.97,89.45 L114.17,88.91 L113.43,88.27 L112.79,87.53 L112.25,86.72 L111.82,85.85 L111.50,84.93 L111.31,83.97 L110.16,77.97Z" fill="#fff" stroke="#d9d4d0" stroke-width="1.0" vector-effect="non-scaling-stroke"/>
<path d="M110.60,98.00 L110.66,97.07 L110.84,96.16 L111.14,95.28 L111.55,94.45 L112.07,93.68 L112.68,92.98 L113.38,92.37 L114.15,91.85 L114.98,91.44 L115.86,91.14 L116.77,90.96 L117.70,90.90 L125.40,90.90 L126.33,90.96 L127.24,91.14 L128.12,91.44 L128.95,91.85 L129.72,92.37 L130.42,92.98 L131.03,93.68 L131.55,94.45 L131.96,95.28 L132.26,96.16 L132.44,97.07 L132.50,98.00 L132.44,98.93 L132.26,99.84 L131.96,100.72 L131.55,101.55 L131.03,102.32 L130.42,103.02 L129.72,103.63 L128.95,104.15 L128.12,104.56 L127.24,104.86 L126.33,105.04 L125.40,105.10 L117.70,105.10 L116.77,105.04 L115.86,104.86 L114.98,104.56 L114.15,104.15 L113.38,103.63 L112.68,103.02 L112.07,102.32 L111.55,101.55 L111.14,100.72 L110.84,99.84 L110.66,98.93Z" fill="#fff" stroke="#d9d4d0" stroke-width="1.0" vector-effect="non-scaling-stroke"/>
<path d="M125.90,111.00 L125.96,110.03 L126.15,109.08 L126.46,108.17 L126.89,107.30 L127.43,106.50 L128.07,105.77 L128.79,105.13 L129.60,104.59 L130.47,104.16 L131.38,103.85 L132.33,103.66 L133.30,103.60 L134.27,103.66 L135.22,103.85 L136.13,104.16 L137.00,104.59 L137.81,105.13 L138.53,105.77 L139.17,106.50 L143.45,112.14 L143.96,112.90 L144.37,113.72 L144.66,114.59 L144.84,115.49 L144.90,116.40 L144.84,117.31 L144.66,118.21 L144.37,119.08 L143.96,119.90 L143.45,120.66 L142.85,121.35 L142.16,121.95 L141.40,122.46 L140.58,122.87 L139.71,123.16 L138.81,123.34 L137.90,123.40 L136.99,123.34 L136.09,123.16 L135.22,122.87 L134.40,122.46 L133.64,121.95 L132.95,121.35 L128.07,116.23 L127.43,115.50 L126.89,114.70 L126.46,113.83 L126.15,112.92 L125.96,111.97Z" fill="#fff" stroke="#d9d4d0" stroke-width="1.0" vector-effect="non-scaling-stroke"/>
<path d="M142.00,134.40 L142.07,133.33 L143.26,123.03 L143.45,122.08 L143.76,121.17 L144.19,120.30 L144.73,119.50 L145.37,118.77 L146.09,118.13 L146.90,117.59 L147.77,117.16 L148.69,116.85 L149.63,116.66 L150.60,116.60 L151.57,116.66 L152.51,116.85 L153.43,117.16 L154.30,117.59 L161.05,122.06 L161.91,122.63 L162.69,123.31 L163.37,124.09 L163.94,124.95 L164.40,125.88 L164.73,126.86 L164.93,127.87 L166.53,136.47 L166.60,137.50 L166.53,138.53 L166.33,139.54 L166.00,140.52 L165.54,141.45 L164.97,142.31 L164.29,143.09 L163.51,143.77 L162.65,144.34 L161.72,144.80 L160.75,145.13 L159.73,145.33 L158.70,145.40 L157.67,145.33 L156.66,145.13 L148.08,142.32 L147.06,141.98 L146.10,141.50 L145.21,140.91 L144.40,140.20 L143.69,139.39 L143.10,138.50 L142.62,137.54 L142.28,136.52 L142.07,135.47Z" fill="#fff" stroke="#d9d4d0" stroke-width="1.0" vector-effect="non-scaling-stroke"/>
<path d="M90.40,122.90 L90.47,121.82 L90.68,120.75 L91.03,119.72 L91.51,118.75 L92.11,117.85 L96.99,110.82 L97.61,110.11 L98.32,109.49 L99.10,108.97 L99.94,108.55 L108.77,104.66 L109.69,104.35 L110.63,104.16 L111.60,104.10 L112.57,104.16 L113.52,104.35 L114.43,104.66 L115.30,105.09 L116.11,105.63 L116.83,106.27 L117.47,107.00 L118.01,107.80 L118.44,108.67 L118.75,109.58 L118.94,110.53 L119.00,111.50 L119.20,122.40 L119.12,123.60 L118.89,124.78 L118.50,125.92 L117.97,127.00 L117.30,128.00 L116.50,128.91 L115.60,129.70 L114.60,130.37 L113.52,130.90 L112.38,131.29 L111.20,131.52 L110.00,131.60 L98.70,131.20 L97.62,131.13 L96.55,130.92 L95.52,130.57 L94.55,130.09 L93.65,129.49 L92.83,128.77 L92.11,127.95 L91.51,127.05 L91.03,126.08 L90.68,125.05 L90.47,123.98Z" fill="#fff" stroke="#d9d4d0" stroke-width="1.0" vector-effect="non-scaling-stroke"/>
<path d="M72.55,141.30 L72.62,140.16 L72.85,139.05 L73.21,137.97 L77.50,128.98 L77.96,128.05 L78.53,127.19 L79.21,126.41 L79.99,125.73 L80.85,125.16 L81.78,124.70 L82.75,124.37 L83.77,124.17 L84.80,124.10 L85.83,124.17 L86.84,124.37 L87.82,124.70 L88.75,125.16 L89.61,125.73 L90.39,126.41 L98.29,133.91 L99.06,134.78 L99.71,135.75 L100.22,136.79 L100.60,137.90 L100.82,139.04 L100.90,140.20 L100.82,141.36 L100.60,142.50 L100.22,143.61 L99.71,144.65 L99.06,145.62 L98.29,146.49 L97.42,147.26 L96.45,147.91 L95.41,148.42 L94.30,148.80 L93.16,149.02 L82.39,149.93 L81.25,150.00 L80.11,149.93 L79.00,149.70 L77.92,149.34 L76.90,148.83 L75.95,148.20 L75.10,147.45 L74.35,146.60 L73.72,145.65 L73.21,144.63 L72.85,143.55 L72.62,142.44Z" fill="#fff" stroke="#d9d4d0" stroke-width="1.0" vector-effect="non-scaling-stroke"/>
<path d="M101.75,152.80 L101.90,137.20 L101.98,135.99 L102.22,134.79 L102.61,133.64 L103.15,132.55 L103.82,131.54 L104.62,130.62 L105.54,129.82 L106.55,129.15 L107.64,128.61 L108.79,128.22 L109.99,127.98 L111.20,127.90 L112.41,127.98 L113.61,128.22 L114.76,128.61 L115.85,129.15 L126.25,135.06 L127.11,135.63 L127.89,136.31 L128.57,137.09 L129.14,137.95 L129.60,138.88 L129.93,139.85 L130.13,140.87 L130.20,141.90 L130.13,142.93 L128.92,154.88 L128.69,156.03 L128.31,157.14 L127.79,158.20 L127.14,159.18 L126.36,160.06 L125.48,160.84 L124.50,161.49 L123.44,162.01 L122.33,162.39 L121.17,162.62 L120.00,162.70 L118.83,162.62 L117.67,162.39 L106.90,159.51 L106.04,159.22 L105.22,158.82 L104.47,158.31 L103.79,157.71 L103.19,157.03 L102.68,156.28 L102.28,155.46 L101.99,154.60 L101.81,153.71Z" fill="#fff" stroke="#d9d4d0" stroke-width="1.0" vector-effect="non-scaling-stroke"/>
<path d="M56.85,172.30 L56.91,171.39 L57.09,170.50 L57.38,169.64 L63.16,156.17 L63.59,155.30 L64.13,154.50 L64.77,153.77 L65.50,153.13 L66.30,152.59 L67.17,152.16 L68.08,151.85 L75.63,149.46 L76.61,149.26 L77.60,149.20 L78.59,149.26 L79.57,149.46 L80.51,149.78 L81.40,150.22 L82.23,150.77 L82.97,151.43 L83.63,152.17 L84.18,153.00 L84.62,153.89 L84.94,154.83 L85.14,155.81 L85.20,156.80 L85.14,157.79 L84.94,158.77 L82.45,166.46 L82.15,167.35 L81.73,168.20 L74.42,182.05 L73.89,182.84 L73.26,183.56 L72.54,184.19 L71.75,184.72 L70.89,185.14 L69.99,185.45 L69.05,185.64 L68.10,185.70 L67.15,185.64 L66.21,185.45 L65.31,185.14 L64.45,184.72 L63.66,184.19 L62.94,183.56 L62.31,182.84 L61.78,182.05 L57.78,175.78 L57.38,174.96 L57.09,174.10 L56.91,173.21Z" fill="#fff" stroke="#d9d4d0" stroke-width="1.0" vector-effect="non-scaling-stroke"/>
<path d="M89.40,186.00 L89.46,185.07 L90.78,175.71 L91.01,174.54 L91.39,173.42 L91.92,172.35 L92.58,171.36 L99.93,161.79 L100.57,161.07 L101.30,160.43 L102.10,159.89 L102.97,159.46 L103.89,159.15 L104.83,158.96 L105.80,158.90 L106.77,158.96 L107.72,159.15 L108.63,159.46 L109.50,159.89 L110.31,160.43 L111.03,161.07 L118.60,168.20 L119.45,169.17 L120.17,170.25 L120.75,171.41 L121.16,172.64 L121.42,173.91 L121.50,175.20 L121.00,186.00 L120.93,187.08 L120.72,188.15 L120.37,189.18 L119.89,190.15 L119.28,191.05 L118.57,191.87 L117.75,192.59 L116.85,193.19 L115.88,193.67 L114.85,194.02 L113.78,194.23 L112.70,194.30 L111.62,194.23 L95.57,193.04 L94.66,192.86 L93.78,192.56 L92.95,192.15 L92.18,191.63 L91.48,191.02 L90.87,190.32 L90.35,189.55 L89.94,188.72 L89.64,187.84 L89.46,186.93Z" fill="#fff" stroke="#d9d4d0" stroke-width="1.0" vector-effect="non-scaling-stroke"/>
<line x1="124.8" y1="55" x2="118.1" y2="69.5" stroke="#c8c8c8" stroke-width="0.6" vector-effect="non-scaling-stroke"/>
<line x1="118.7" y1="83" x2="117.7" y2="98" stroke="#c8c8c8" stroke-width="0.6" vector-effect="non-scaling-stroke"/>
<line x1="125.6" y1="83" x2="125.4" y2="98" stroke="#c8c8c8" stroke-width="0.6" vector-effect="non-scaling-stroke"/>
<line x1="125.4" y1="98" x2="133.3" y2="111" stroke="#c8c8c8" stroke-width="0.6" vector-effect="non-scaling-stroke"/>
<line x1="117.7" y1="98" x2="111.6" y2="111.5" stroke="#c8c8c8" stroke-width="0.6" vector-effect="non-scaling-stroke"/>
<line x1="137.9" y1="116.4" x2="150.6" y2="124" stroke="#c8c8c8" stroke-width="0.6" vector-effect="non-scaling-stroke"/>
<line x1="98.7" y1="122.9" x2="84.8" y2="132" stroke="#c8c8c8" stroke-width="0.6" vector-effect="non-scaling-stroke"/>
<line x1="110" y1="122.4" x2="111.2" y2="137.2" stroke="#c8c8c8" stroke-width="0.6" vector-effect="non-scaling-stroke"/>
<line x1="81.25" y1="141.3" x2="70" y2="159" stroke="#c8c8c8" stroke-width="0.6" vector-effect="non-scaling-stroke"/>
<line x1="108.7" y1="152.8" x2="105.8" y2="166.3" stroke="#c8c8c8" stroke-width="0.6" vector-effect="non-scaling-stroke"/>
<circle cx="118" cy="55" r="3.35" fill="#3a8a68"/>
<circle cx="124.8" cy="55" r="3.35" fill="#3a9a68"/>
<circle cx="118.1" cy="69.5" r="3.0" fill="#3a7a78"/>
<circle cx="126" cy="69.3" r="3.1" fill="#3a4a88"/>
<circle cx="117.5" cy="77" r="3.05" fill="#3a4a88"/>
<circle cx="125.6" cy="75.8" r="3.2" fill="#3a6088"/>
<circle cx="118.7" cy="83" r="3.1" fill="#3a4a88"/>
<circle cx="125.6" cy="83" r="3.1" fill="#2e3e84"/>
<circle cx="117.7" cy="98" r="3.2" fill="#3a4a88"/>
<circle cx="125.4" cy="98" r="3.2" fill="#3a4a88"/>
<circle cx="133.3" cy="111" r="3.5" fill="#3a4a88"/>
<circle cx="137.9" cy="116.4" r="3.1" fill="#3a4a88"/>
<circle cx="150.6" cy="124" r="3.5" fill="#3a4a88"/>
<circle cx="157.1" cy="128.9" r="4.0" fill="#3a5a88"/>
<circle cx="150.2" cy="134.4" r="4.3" fill="#3a4088"/>
<circle cx="158.7" cy="137.5" r="4.0" fill="#3a4a88"/>
<circle cx="102.7" cy="115.2" r="3.3" fill="#3a6088"/>
<circle cx="111.6" cy="111.5" r="3.5" fill="#3a6088"/>
<circle cx="98.7" cy="122.9" r="4.4" fill="#3a5088"/>
<circle cx="110" cy="122.4" r="5.3" fill="#3a5a90"/>
<circle cx="84.8" cy="132" r="4.0" fill="#3a5088"/>
<circle cx="81.25" cy="141.3" r="4.8" fill="#3a5088"/>
<circle cx="92" cy="140.2" r="5.0" fill="#3a5088"/>
<circle cx="111.2" cy="137.2" r="5.4" fill="#3a4a88"/>
<circle cx="122.3" cy="141.9" r="4.0" fill="#3a4a88"/>
<circle cx="113.9" cy="146.3" r="3.5" fill="#3a4088"/>
<circle cx="108.7" cy="152.8" r="3.05" fill="#3a9a50"/>
<circle cx="120" cy="153.7" r="5.1" fill="#3a3a88"/>
<circle cx="77.6" cy="156.8" r="3.7" fill="#3a5a88"/>
<circle cx="70" cy="159" r="3.5" fill="#3a7080"/>
<circle cx="67" cy="165.8" r="3.05" fill="#3a7080"/>
<circle cx="75.5" cy="164.6" r="3.3" fill="#3a6a88"/>
<circle cx="63.8" cy="172.3" r="3.05" fill="#3a8a68"/>
<circle cx="71.2" cy="170.7" r="3.0" fill="#3a8a60"/>
<circle cx="68.1" cy="178.4" r="3.4" fill="#3a5088"/>
<circle cx="105.8" cy="166.3" r="3.5" fill="#3a5088"/>
<circle cx="99.8" cy="176.9" r="5.2" fill="#3a3a88"/>
<circle cx="111.6" cy="175.2" r="6.0" fill="#3a3a88"/>
<circle cx="96.5" cy="186" r="3.2" fill="#3a3a88"/>
<circle cx="112.7" cy="186" r="4.4" fill="#3a3a88"/>
</g>
<path d="M0,0 L12.0,-5.2 L12.0,-2.6 L32.609814473559936,-0.25 L32.609814473559936,0.25 L12.0,2.6 L12.0,5.2 Z" transform="translate(70,288.1) rotate(38.28)" fill="url(#arr)"/>
<path d="M0,0 L12.0,-5.2 L12.0,-2.6 L31.88181299738141,-0.25 L31.88181299738141,0.25 L12.0,2.6 L12.0,5.2 Z" transform="translate(180.3,286.0) rotate(37.48)" fill="url(#arr)"/>
<path d="M0,0 L12.0,-5.2 L12.0,-2.6 L33.56218109718142,-0.25 L33.56218109718142,0.25 L12.0,2.6 L12.0,5.2 Z" transform="translate(27,346.1) rotate(-112.97)" fill="url(#arr)"/>
<path d="M0,0 L12.0,-5.2 L12.0,-2.6 L32.577446185973514,-0.25 L32.577446185973514,0.25 L12.0,2.6 L12.0,5.2 Z" transform="translate(136.8,343.0) rotate(-112.94)" fill="url(#arr)"/>
<text x="39.30" y="277.80" font-size="8.3" fill="#231f20" stroke="#231f20" stroke-width="0.1" textLength="27.00" lengthAdjust="spacingAndGlyphs" >control</text>
<text x="102.70" y="301.30" font-size="8.3" fill="#231f20" stroke="#231f20" stroke-width="0.1" textLength="13.60" lengthAdjust="spacingAndGlyphs" >Eng</text>
<text x="147.5" y="274.4" font-size="8.3" fill="#231f20" stroke="#231f20" stroke-width="0.1"><tspan textLength="13.3" lengthAdjust="spacingAndGlyphs">Eng</tspan><tspan font-size="5.2" dy="-3.3" stroke-width="0" textLength="8.1" lengthAdjust="spacingAndGlyphs">fl/Δ</tspan><tspan dy="3.3" textLength="15.6" lengthAdjust="spacingAndGlyphs">;Cre</tspan><tspan font-size="5.2" dy="-3.6" stroke-width="0" textLength="2.6" lengthAdjust="spacingAndGlyphs">+</tspan></text>
<text x="80.10" y="384.00" font-size="8.3" fill="#231f20" stroke="#231f20" stroke-width="0.1" textLength="20.90" lengthAdjust="spacingAndGlyphs" >mean</text>
<text x="70.90" y="394.40" font-size="8.3" fill="#231f20" stroke="#231f20" stroke-width="0.1" textLength="39.80" lengthAdjust="spacingAndGlyphs" >expression</text>
<rect x="75.1" y="398.7" width="33.5" height="5.4" fill="url(#gA)"/>
<text x="73.70" y="413.90" font-size="9.0" fill="#231f20" stroke="#231f20" stroke-width="0.1" textLength="5.20" lengthAdjust="spacingAndGlyphs" >0</text>
<text x="98.50" y="413.90" font-size="9.0" fill="#231f20" stroke="#231f20" stroke-width="0.1" textLength="16.20" lengthAdjust="spacingAndGlyphs" >2.56</text>
<rect x="242.3" y="283.40" width="14.30" height="13.5" fill="#a83a38"/>
<rect x="256.6" y="283.40" width="14.60" height="13.5" fill="#a83a38"/>
<rect x="242.3" y="296.90" width="14.30" height="13.5" fill="#f5d890"/>
<rect x="256.6" y="296.90" width="14.60" height="13.5" fill="#cf7349"/>
<rect x="242.3" y="310.40" width="14.30" height="13.5" fill="#d7805a"/>
<rect x="256.6" y="310.40" width="14.60" height="13.5" fill="#d9825a"/>
<rect x="242.3" y="323.90" width="14.30" height="13.5" fill="#c35a42"/>
<rect x="256.6" y="323.90" width="14.60" height="13.5" fill="#e9aa72"/>
<rect x="242.3" y="337.40" width="14.30" height="13.5" fill="#8ba1cc"/>
<rect x="256.6" y="337.40" width="14.60" height="13.5" fill="#8fa6d2"/>
<rect x="242.3" y="350.90" width="14.30" height="13.5" fill="#b8cae4"/>
<rect x="256.6" y="350.90" width="14.60" height="13.5" fill="#90a6d4"/>
<rect x="242.3" y="364.40" width="14.30" height="13.5" fill="#89a0cc"/>
<rect x="256.6" y="364.40" width="14.60" height="13.5" fill="#90a6d2"/>
<rect x="242.3" y="377.90" width="14.30" height="13.5" fill="#89a0cc"/>
<rect x="256.6" y="377.90" width="14.60" height="13.5" fill="#8ca4d0"/>
<line x1="242.3" x2="271.2" y1="296.90" y2="296.90" stroke="#a09a98" stroke-width="0.8"/>
<line x1="242.3" x2="271.2" y1="310.40" y2="310.40" stroke="#a09a98" stroke-width="0.8"/>
<line x1="242.3" x2="271.2" y1="323.90" y2="323.90" stroke="#a09a98" stroke-width="0.8"/>
<line x1="242.3" x2="271.2" y1="337.40" y2="337.40" stroke="#a09a98" stroke-width="0.8"/>
<line x1="242.3" x2="271.2" y1="350.90" y2="350.90" stroke="#a09a98" stroke-width="0.8"/>
<line x1="242.3" x2="271.2" y1="364.40" y2="364.40" stroke="#a09a98" stroke-width="0.8"/>
<line x1="242.3" x2="271.2" y1="377.90" y2="377.90" stroke="#a09a98" stroke-width="0.8"/>
<line x1="256.6" x2="256.6" y1="283.4" y2="391.4" stroke="#a09a98" stroke-width="0.8"/>
<rect x="242.3" y="283.4" width="28.90" height="108.0" fill="none" stroke="#b8b4b2" stroke-width="0.5"/>
<rect x="237.5" y="283.4" width="3.2" height="54.0" fill="#a01c30"/>
<rect x="237.5" y="337.4" width="3.2" height="54.0" fill="#3a5a8a"/>
<line x1="237.5" x2="240.7" y1="296.90" y2="296.90" stroke="#8a8a9a" stroke-width="0.6"/>
<line x1="237.5" x2="240.7" y1="310.40" y2="310.40" stroke="#8a8a9a" stroke-width="0.6"/>
<line x1="237.5" x2="240.7" y1="323.90" y2="323.90" stroke="#8a8a9a" stroke-width="0.6"/>
<line x1="237.5" x2="240.7" y1="337.40" y2="337.40" stroke="#8a8a9a" stroke-width="0.6"/>
<line x1="237.5" x2="240.7" y1="350.90" y2="350.90" stroke="#8a8a9a" stroke-width="0.6"/>
<line x1="237.5" x2="240.7" y1="364.40" y2="364.40" stroke="#8a8a9a" stroke-width="0.6"/>
<line x1="237.5" x2="240.7" y1="377.90" y2="377.90" stroke="#8a8a9a" stroke-width="0.6"/>
<rect x="280.5" y="283.40" width="14.30" height="13.5" fill="#f5d890"/>
<rect x="294.8" y="283.40" width="14.70" height="13.5" fill="#f8e4a0"/>
<rect x="280.5" y="296.90" width="14.30" height="13.5" fill="#f8ecb8"/>
<rect x="294.8" y="296.90" width="14.70" height="13.5" fill="#f0c888"/>
<rect x="280.5" y="310.40" width="14.30" height="13.5" fill="#b03838"/>
<rect x="294.8" y="310.40" width="14.70" height="13.5" fill="#d88058"/>
<rect x="280.5" y="323.90" width="14.30" height="13.5" fill="#c86048"/>
<rect x="294.8" y="323.90" width="14.70" height="13.5" fill="#b03838"/>
<rect x="280.5" y="337.40" width="14.30" height="13.5" fill="#c0d0e8"/>
<rect x="294.8" y="337.40" width="14.70" height="13.5" fill="#6880b8"/>
<rect x="280.5" y="350.90" width="14.30" height="13.5" fill="#7088c0"/>
<rect x="294.8" y="350.90" width="14.70" height="13.5" fill="#b8c8e0"/>
<rect x="280.5" y="364.40" width="14.30" height="13.5" fill="#f5f0d8"/>
<rect x="294.8" y="364.40" width="14.70" height="13.5" fill="#b0c0e0"/>
<rect x="280.5" y="377.90" width="14.30" height="13.5" fill="#c0d0e8"/>
<rect x="294.8" y="377.90" width="14.70" height="13.5" fill="#f5f0d0"/>
<line x1="280.5" x2="309.5" y1="296.90" y2="296.90" stroke="#a09a98" stroke-width="0.8"/>
<line x1="280.5" x2="309.5" y1="310.40" y2="310.40" stroke="#a09a98" stroke-width="0.8"/>
<line x1="280.5" x2="309.5" y1="323.90" y2="323.90" stroke="#a09a98" stroke-width="0.8"/>
<line x1="280.5" x2="309.5" y1="337.40" y2="337.40" stroke="#a09a98" stroke-width="0.8"/>
<line x1="280.5" x2="309.5" y1="350.90" y2="350.90" stroke="#a09a98" stroke-width="0.8"/>
<line x1="280.5" x2="309.5" y1="364.40" y2="364.40" stroke="#a09a98" stroke-width="0.8"/>
<line x1="280.5" x2="309.5" y1="377.90" y2="377.90" stroke="#a09a98" stroke-width="0.8"/>
<line x1="294.8" x2="294.8" y1="283.4" y2="391.4" stroke="#a09a98" stroke-width="0.8"/>
<rect x="280.5" y="283.4" width="29.00" height="108.0" fill="none" stroke="#b8b4b2" stroke-width="0.5"/>
<rect x="275.8" y="283.4" width="3.2" height="54.0" fill="#a01c30"/>
<rect x="275.8" y="337.4" width="3.2" height="54.0" fill="#3a5a8a"/>
<line x1="275.8" x2="279.0" y1="296.90" y2="296.90" stroke="#8a8a9a" stroke-width="0.6"/>
<line x1="275.8" x2="279.0" y1="310.40" y2="310.40" stroke="#8a8a9a" stroke-width="0.6"/>
<line x1="275.8" x2="279.0" y1="323.90" y2="323.90" stroke="#8a8a9a" stroke-width="0.6"/>
<line x1="275.8" x2="279.0" y1="337.40" y2="337.40" stroke="#8a8a9a" stroke-width="0.6"/>
<line x1="275.8" x2="279.0" y1="350.90" y2="350.90" stroke="#8a8a9a" stroke-width="0.6"/>
<line x1="275.8" x2="279.0" y1="364.40" y2="364.40" stroke="#8a8a9a" stroke-width="0.6"/>
<line x1="275.8" x2="279.0" y1="377.90" y2="377.90" stroke="#8a8a9a" stroke-width="0.6"/>
<rect x="319.3" y="283.40" width="14.50" height="13.5" fill="#f5eed8"/>
<rect x="333.8" y="283.40" width="14.70" height="13.5" fill="#f8e8a8"/>
<rect x="319.3" y="296.90" width="14.50" height="13.5" fill="#f8eab0"/>
<rect x="333.8" y="296.90" width="14.70" height="13.5" fill="#f5d890"/>
<rect x="319.3" y="310.40" width="14.50" height="13.5" fill="#b03838"/>
<rect x="333.8" y="310.40" width="14.70" height="13.5" fill="#c04838"/>
<rect x="319.3" y="323.90" width="14.50" height="13.5" fill="#d88058"/>
<rect x="333.8" y="323.90" width="14.70" height="13.5" fill="#e8a878"/>
<rect x="319.3" y="337.40" width="14.50" height="13.5" fill="#d0dce8"/>
<rect x="333.8" y="337.40" width="14.70" height="13.5" fill="#e0e4ec"/>
<rect x="319.3" y="350.90" width="14.50" height="13.5" fill="#d8e0ea"/>
<rect x="333.8" y="350.90" width="14.70" height="13.5" fill="#ececec"/>
<rect x="319.3" y="364.40" width="14.50" height="13.5" fill="#c8d4e6"/>
<rect x="333.8" y="364.40" width="14.70" height="13.5" fill="#6a84c0"/>
<rect x="319.3" y="377.90" width="14.50" height="13.5" fill="#eeeee8"/>
<rect x="333.8" y="377.90" width="14.70" height="13.5" fill="#e8eae8"/>
<line x1="319.3" x2="348.5" y1="296.90" y2="296.90" stroke="#a09a98" stroke-width="0.8"/>
<line x1="319.3" x2="348.5" y1="310.40" y2="310.40" stroke="#a09a98" stroke-width="0.8"/>
<line x1="319.3" x2="348.5" y1="323.90" y2="323.90" stroke="#a09a98" stroke-width="0.8"/>
<line x1="319.3" x2="348.5" y1="337.40" y2="337.40" stroke="#a09a98" stroke-width="0.8"/>
<line x1="319.3" x2="348.5" y1="350.90" y2="350.90" stroke="#a09a98" stroke-width="0.8"/>
<line x1="319.3" x2="348.5" y1="364.40" y2="364.40" stroke="#a09a98" stroke-width="0.8"/>
<line x1="319.3" x2="348.5" y1="377.90" y2="377.90" stroke="#a09a98" stroke-width="0.8"/>
<line x1="333.8" x2="333.8" y1="283.4" y2="391.4" stroke="#a09a98" stroke-width="0.8"/>
<rect x="319.3" y="283.4" width="29.20" height="108.0" fill="none" stroke="#b8b4b2" stroke-width="0.5"/>
<rect x="314.8" y="283.4" width="3.2" height="54.0" fill="#a01c30"/>
<rect x="314.8" y="337.4" width="3.2" height="54.0" fill="#3a5a8a"/>
<line x1="314.8" x2="318.0" y1="296.90" y2="296.90" stroke="#8a8a9a" stroke-width="0.6"/>
<line x1="314.8" x2="318.0" y1="310.40" y2="310.40" stroke="#8a8a9a" stroke-width="0.6"/>
<line x1="314.8" x2="318.0" y1="323.90" y2="323.90" stroke="#8a8a9a" stroke-width="0.6"/>
<line x1="314.8" x2="318.0" y1="337.40" y2="337.40" stroke="#8a8a9a" stroke-width="0.6"/>
<line x1="314.8" x2="318.0" y1="350.90" y2="350.90" stroke="#8a8a9a" stroke-width="0.6"/>
<line x1="314.8" x2="318.0" y1="364.40" y2="364.40" stroke="#8a8a9a" stroke-width="0.6"/>
<line x1="314.8" x2="318.0" y1="377.90" y2="377.90" stroke="#8a8a9a" stroke-width="0.6"/>
<text x="248.80" y="255.10" font-size="8.3" fill="#231f20" stroke="#231f20" stroke-width="0.1" textLength="14.60" lengthAdjust="spacingAndGlyphs" >Eng</text>
<text x="279.10" y="255.00" font-size="8.3" fill="#231f20" stroke="#231f20" stroke-width="0.1" textLength="27.90" lengthAdjust="spacingAndGlyphs" >pSMAD</text>
<text x="322.40" y="255.60" font-size="8.3" fill="#231f20" stroke="#231f20" stroke-width="0.1" textLength="21.50" lengthAdjust="spacingAndGlyphs" >pMK2</text>
<line x1="242.7" x2="270.7" y1="260.5" y2="260.5" stroke="#2a2a2a" stroke-width="1.2"/>
<line x1="280.6" x2="308.6" y1="260.5" y2="260.5" stroke="#2a2a2a" stroke-width="1.2"/>
<line x1="320" x2="348.6" y1="260.5" y2="260.5" stroke="#2a2a2a" stroke-width="1.2"/>
<text transform="translate(249.00,279.3) rotate(-45)" font-size="7.9" fill="#231f20" stroke="#231f20" stroke-width="0.1" textLength="13.9" lengthAdjust="spacingAndGlyphs">HSC</text>
<text transform="translate(263.90,279.7) rotate(-45)" font-size="7.9" fill="#231f20" stroke="#231f20" stroke-width="0.1" textLength="15.2" lengthAdjust="spacingAndGlyphs">MEP</text>
<text transform="translate(287.20,279.3) rotate(-45)" font-size="7.9" fill="#231f20" stroke="#231f20" stroke-width="0.1" textLength="13.9" lengthAdjust="spacingAndGlyphs">HSC</text>
<text transform="translate(302.10,279.7) rotate(-45)" font-size="7.9" fill="#231f20" stroke="#231f20" stroke-width="0.1" textLength="15.2" lengthAdjust="spacingAndGlyphs">MEP</text>
<text transform="translate(326.00,279.3) rotate(-45)" font-size="7.9" fill="#231f20" stroke="#231f20" stroke-width="0.1" textLength="13.9" lengthAdjust="spacingAndGlyphs">HSC</text>
<text transform="translate(340.90,279.7) rotate(-45)" font-size="7.9" fill="#231f20" stroke="#231f20" stroke-width="0.1" textLength="15.2" lengthAdjust="spacingAndGlyphs">MEP</text>
<text transform="translate(232.6,332.6) rotate(-90)" font-size="9.6" fill="#b0304a" stroke="#b0304a" stroke-width="0.1" textLength="47.1" lengthAdjust="spacingAndGlyphs">control mice</text>
<g transform="translate(232.2,396.7) rotate(-90)" fill="#3a5a90" stroke="#3a5a90" stroke-width="0.1">
<text x="0" y="0" font-size="9.6" textLength="13.2" lengthAdjust="spacingAndGlyphs">Eng</text>
<text x="13.9" y="-3.6" font-size="6" textLength="9.6" lengthAdjust="spacingAndGlyphs">fl/Δ</text>
<text x="25.2" y="0" font-size="9.6" textLength="13.3" lengthAdjust="spacingAndGlyphs">;Cre</text>
<text x="38.3" y="-3.9" font-size="6" textLength="2.2" lengthAdjust="spacingAndGlyphs">+</text>
<text x="41.5" y="0" font-size="9.6" textLength="14.0" lengthAdjust="spacingAndGlyphs">mice</text>
</g>
<text x="271.10" y="402.70" font-size="8.3" fill="#231f20" stroke="#231f20" stroke-width="0.1" textLength="47.00" lengthAdjust="spacingAndGlyphs" >Arcsinh ratio</text>
<rect x="262.8" y="408.2" width="67" height="4.1" rx="1.5" fill="url(#gD)"/>
<text x="257.40" y="422.50" font-size="8.3" fill="#231f20" stroke="#231f20" stroke-width="0.1" textLength="23.70" lengthAdjust="spacingAndGlyphs" >Max(-)</text>
<text x="294.90" y="422.50" font-size="8.3" fill="#231f20" stroke="#231f20" stroke-width="0.1" textLength="4.20" lengthAdjust="spacingAndGlyphs" >0</text>
<text x="309.60" y="422.50" font-size="8.3" fill="#231f20" stroke="#231f20" stroke-width="0.1" textLength="26.20" lengthAdjust="spacingAndGlyphs" >Max(+)</text>
<rect x="431.2" y="235.2" width="6.6" height="5.7" fill="#ab2c44" stroke="#8e1a30" stroke-width="0.7"/>
<rect x="431.2" y="248.6" width="6.6" height="5.7" fill="#3a5a8a" stroke="#2a4272" stroke-width="0.7"/>
<text x="441.40" y="240.10" font-size="8.3" fill="#231f20" stroke="#231f20" stroke-width="0.1" textLength="26.40" lengthAdjust="spacingAndGlyphs" >control</text>
<text x="441.4" y="254" font-size="8.3" fill="#231f20" stroke="#231f20" stroke-width="0.1"><tspan textLength="12.2" lengthAdjust="spacingAndGlyphs">Eng</tspan><tspan font-size="5.2" dy="-3.3" stroke-width="0" fill="#444" textLength="10.2" lengthAdjust="spacingAndGlyphs">fl/Δ</tspan><tspan dy="3.3" textLength="28.6" lengthAdjust="spacingAndGlyphs">;Mx1-Cre</tspan><tspan font-size="5.2" dy="-3.6" stroke-width="0" textLength="2.4" lengthAdjust="spacingAndGlyphs">+</tspan></text>
<text x="401.90" y="273.10" font-size="8.3" fill="#231f20" stroke="#231f20" stroke-width="0.1" textLength="40.10" lengthAdjust="spacingAndGlyphs" >pSMAD2/3</text>
<text x="456.80" y="272.60" font-size="8.3" fill="#231f20" stroke="#231f20" stroke-width="0.1" textLength="47.00" lengthAdjust="spacingAndGlyphs" >pMAPKAPK2</text>
<path d="M391.2,277.7 H512 V400.6 H394.9 V277.7" fill="none" stroke="#2a2a2a" stroke-width="1.2"/>
<line x1="453.6" x2="453.6" y1="277.7" y2="400.6" stroke="#2a2a2a" stroke-width="1.1"/>
<line x1="391.2" x2="394.9" y1="318.4" y2="318.4" stroke="#2a2a2a" stroke-width="1.1"/>
<line x1="391.2" x2="394.9" y1="359.5" y2="359.5" stroke="#2a2a2a" stroke-width="1.1"/>
<text x="383.10" y="280.60" font-size="8.8" fill="#231f20" stroke="#231f20" stroke-width="0.1" textLength="4.90" lengthAdjust="spacingAndGlyphs" >9</text>
<text x="383.10" y="321.70" font-size="8.8" fill="#231f20" stroke="#231f20" stroke-width="0.1" textLength="4.90" lengthAdjust="spacingAndGlyphs" >6</text>
<text x="383.40" y="362.10" font-size="8.8" fill="#231f20" stroke="#231f20" stroke-width="0.1" textLength="4.60" lengthAdjust="spacingAndGlyphs" >3</text>
<text transform="translate(377.3,361.7) rotate(-90)" font-size="10.4" fill="#231f20" stroke="#231f20" stroke-width="0.1" textLength="56" lengthAdjust="spacingAndGlyphs">Raw median</text>
<text x="399.30" y="412.00" font-size="8.3" fill="#231f20" stroke="#231f20" stroke-width="0.1" textLength="15.60" lengthAdjust="spacingAndGlyphs" >HSC</text>
<text x="428.90" y="412.00" font-size="8.3" fill="#231f20" stroke="#231f20" stroke-width="0.1" textLength="16.30" lengthAdjust="spacingAndGlyphs" >MEP</text>
<text x="459.40" y="412.00" font-size="8.3" fill="#231f20" stroke="#231f20" stroke-width="0.1" textLength="15.50" lengthAdjust="spacingAndGlyphs" >HSC</text>
<text x="489.10" y="412.00" font-size="8.3" fill="#231f20" stroke="#231f20" stroke-width="0.1" textLength="15.40" lengthAdjust="spacingAndGlyphs" >MEP</text>
<line x1="403.3" x2="403.3" y1="321.9" y2="337.7" stroke="#111" stroke-width="0.8"/>
<rect x="399.30" y="323.30" width="8.00" height="12.70" fill="#ab2c44" stroke="#8e1a30" stroke-width="0.6"/>
<line x1="399" x2="407.6" y1="329.7" y2="329.7" stroke="#1a0a0a" stroke-width="1.4"/>
<circle cx="403.3" cy="321.9" r="1.5" fill="#111"/>
<circle cx="403.3" cy="325.5" r="1.5" fill="#111"/>
<circle cx="403.3" cy="334.1" r="1.5" fill="#111"/>
<circle cx="403.3" cy="337.7" r="1.5" fill="#111"/>
<line x1="414.1" x2="414.1" y1="340.2" y2="351.4" stroke="#111" stroke-width="0.8"/>
<rect x="410.00" y="342.10" width="8.20" height="7.30" fill="#3a5a8a" stroke="#2a4272" stroke-width="0.6"/>
<line x1="409.7" x2="418.5" y1="345.6" y2="345.6" stroke="#1a0a0a" stroke-width="1.4"/>
<circle cx="414.1" cy="340.2" r="1.5" fill="#f4f0ec" stroke="#333" stroke-width="0.5"/>
<circle cx="414.1" cy="345.6" r="1.5" fill="#f4f0ec" stroke="#333" stroke-width="0.5"/>
<circle cx="414.1" cy="351.4" r="1.5" fill="#f4f0ec" stroke="#333" stroke-width="0.5"/>
<line x1="433.25" x2="433.25" y1="351.8" y2="362.6" stroke="#111" stroke-width="0.8"/>
<rect x="429.20" y="353.30" width="8.10" height="7.40" fill="#ab2c44" stroke="#8e1a30" stroke-width="0.6"/>
<line x1="428.9" x2="437.6" y1="357.8" y2="357.8" stroke="#1a0a0a" stroke-width="1.4"/>
<circle cx="433.25" cy="351.8" r="1.5" fill="#111"/>
<circle cx="433.25" cy="356" r="1.5" fill="#111"/>
<circle cx="433.25" cy="359.5" r="1.5" fill="#111"/>
<circle cx="433.25" cy="362.6" r="1.5" fill="#111"/>
<line x1="443.6" x2="443.6" y1="364.3" y2="374.2" stroke="#111" stroke-width="0.8"/>
<rect x="439.60" y="366.20" width="8.00" height="6.10" fill="#3a5a8a" stroke="#2a4272" stroke-width="0.6"/>
<line x1="439.3" x2="447.9" y1="369.8" y2="369.8" stroke="#1a0a0a" stroke-width="1.4"/>
<circle cx="443.6" cy="364.3" r="1.5" fill="#f4f0ec" stroke="#333" stroke-width="0.5"/>
<circle cx="443.6" cy="369.5" r="1.5" fill="#f4f0ec" stroke="#333" stroke-width="0.5"/>
<circle cx="443.6" cy="374.2" r="1.5" fill="#f4f0ec" stroke="#333" stroke-width="0.5"/>
<line x1="462.65" x2="462.65" y1="342.2" y2="378.2" stroke="#111" stroke-width="0.8"/>
<rect x="458.60" y="345.50" width="8.10" height="30.00" fill="#ab2c44" stroke="#8e1a30" stroke-width="0.6"/>
<line x1="458.3" x2="467" y1="363.1" y2="363.1" stroke="#1a0a0a" stroke-width="1.4"/>
<circle cx="462.65" cy="342.2" r="1.5" fill="#111"/>
<circle cx="462.65" cy="353.8" r="1.5" fill="#111"/>
<circle cx="462.65" cy="372.2" r="1.5" fill="#111"/>
<circle cx="462.65" cy="378.2" r="1.5" fill="#111"/>
<line x1="473.55" x2="473.55" y1="381.5" y2="389.2" stroke="#111" stroke-width="0.8"/>
<rect x="469.60" y="383.00" width="7.90" height="4.60" fill="#3a5a8a" stroke="#2a4272" stroke-width="0.6"/>
<line x1="469.3" x2="477.8" y1="385.3" y2="385.3" stroke="#1a0a0a" stroke-width="1.4"/>
<circle cx="473.55" cy="381.5" r="1.5" fill="#f4f0ec" stroke="#333" stroke-width="0.5"/>
<circle cx="473.55" cy="385.3" r="1.5" fill="#f4f0ec" stroke="#333" stroke-width="0.5"/>
<circle cx="473.55" cy="389.2" r="1.5" fill="#f4f0ec" stroke="#333" stroke-width="0.5"/>
<line x1="492.55" x2="492.55" y1="277.9" y2="333.2" stroke="#111" stroke-width="0.8"/>
<rect x="488.60" y="286.60" width="7.90" height="42.70" fill="#ab2c44" stroke="#8e1a30" stroke-width="0.6"/>
<line x1="488.3" x2="496.8" y1="315.1" y2="315.1" stroke="#1a0a0a" stroke-width="1.4"/>
<circle cx="492.55" cy="277.9" r="1.5" fill="#111"/>
<circle cx="492.55" cy="309.7" r="1.5" fill="#111"/>
<circle cx="492.55" cy="320.6" r="1.5" fill="#111"/>
<circle cx="492.55" cy="333.2" r="1.5" fill="#111"/>
<line x1="503.6" x2="503.6" y1="352.5" y2="379.3" stroke="#111" stroke-width="0.8"/>
<rect x="499.60" y="354.50" width="8.00" height="19.50" fill="#3a5a8a" stroke="#2a4272" stroke-width="0.6"/>
<line x1="499.3" x2="507.9" y1="356.5" y2="356.5" stroke="#1a0a0a" stroke-width="1.4"/>
<circle cx="503.6" cy="354.5" r="1.5" fill="#f4f0ec" stroke="#333" stroke-width="0.5"/>
<circle cx="503.6" cy="359.8" r="1.5" fill="#f4f0ec" stroke="#333" stroke-width="0.5"/>
<circle cx="503.6" cy="379.3" r="1.5" fill="#f4f0ec" stroke="#333" stroke-width="0.5"/>
<path d="M403.8,315.09999999999997 V313.9 H414.4 V335.6" fill="none" stroke="#333" stroke-width="0.9"/>
<line x1="413.09999999999997" x2="415.7" y1="335.6" y2="335.6" stroke="#333" stroke-width="0.9"/>
<text x="408.85" y="314.70" font-size="9" fill="#231f20" text-anchor="middle">**</text>
<path d="M433.3,345.8 V344.6 H444.3 V359.5" fill="none" stroke="#333" stroke-width="0.9"/>
<line x1="443.0" x2="445.6" y1="359.5" y2="359.5" stroke="#333" stroke-width="0.9"/>
<text x="438.6" y="346.40" font-size="9" fill="#231f20" text-anchor="middle">**</text>
<path d="M462.9,336.3 V335.1 H473.4 V376.3" fill="none" stroke="#333" stroke-width="0.9"/>
<line x1="472.09999999999997" x2="474.7" y1="376.3" y2="376.3" stroke="#333" stroke-width="0.9"/>
<text x="467.4" y="336.00" font-size="9" fill="#231f20" text-anchor="middle">*</text>
<path d="M494.4,285.09999999999997 V283.9 H503.3 V349.3" fill="none" stroke="#333" stroke-width="0.9"/>
<line x1="502.0" x2="504.6" y1="349.3" y2="349.3" stroke="#333" stroke-width="0.9"/>
<text x="498.85" y="285.10" font-size="9" fill="#231f20" text-anchor="middle">**</text>
<rect x="0" y="0" width="520" height="1" fill="#000"/><rect x="0" y="0" width="1" height="433" fill="#000"/><rect x="0" y="432" width="520" height="1" fill="#000"/><rect x="518" y="0" width="1" height="433" fill="#7a7a7a"/><rect x="519" y="0" width="1" height="433" fill="#555"/>
</svg></body></html>
